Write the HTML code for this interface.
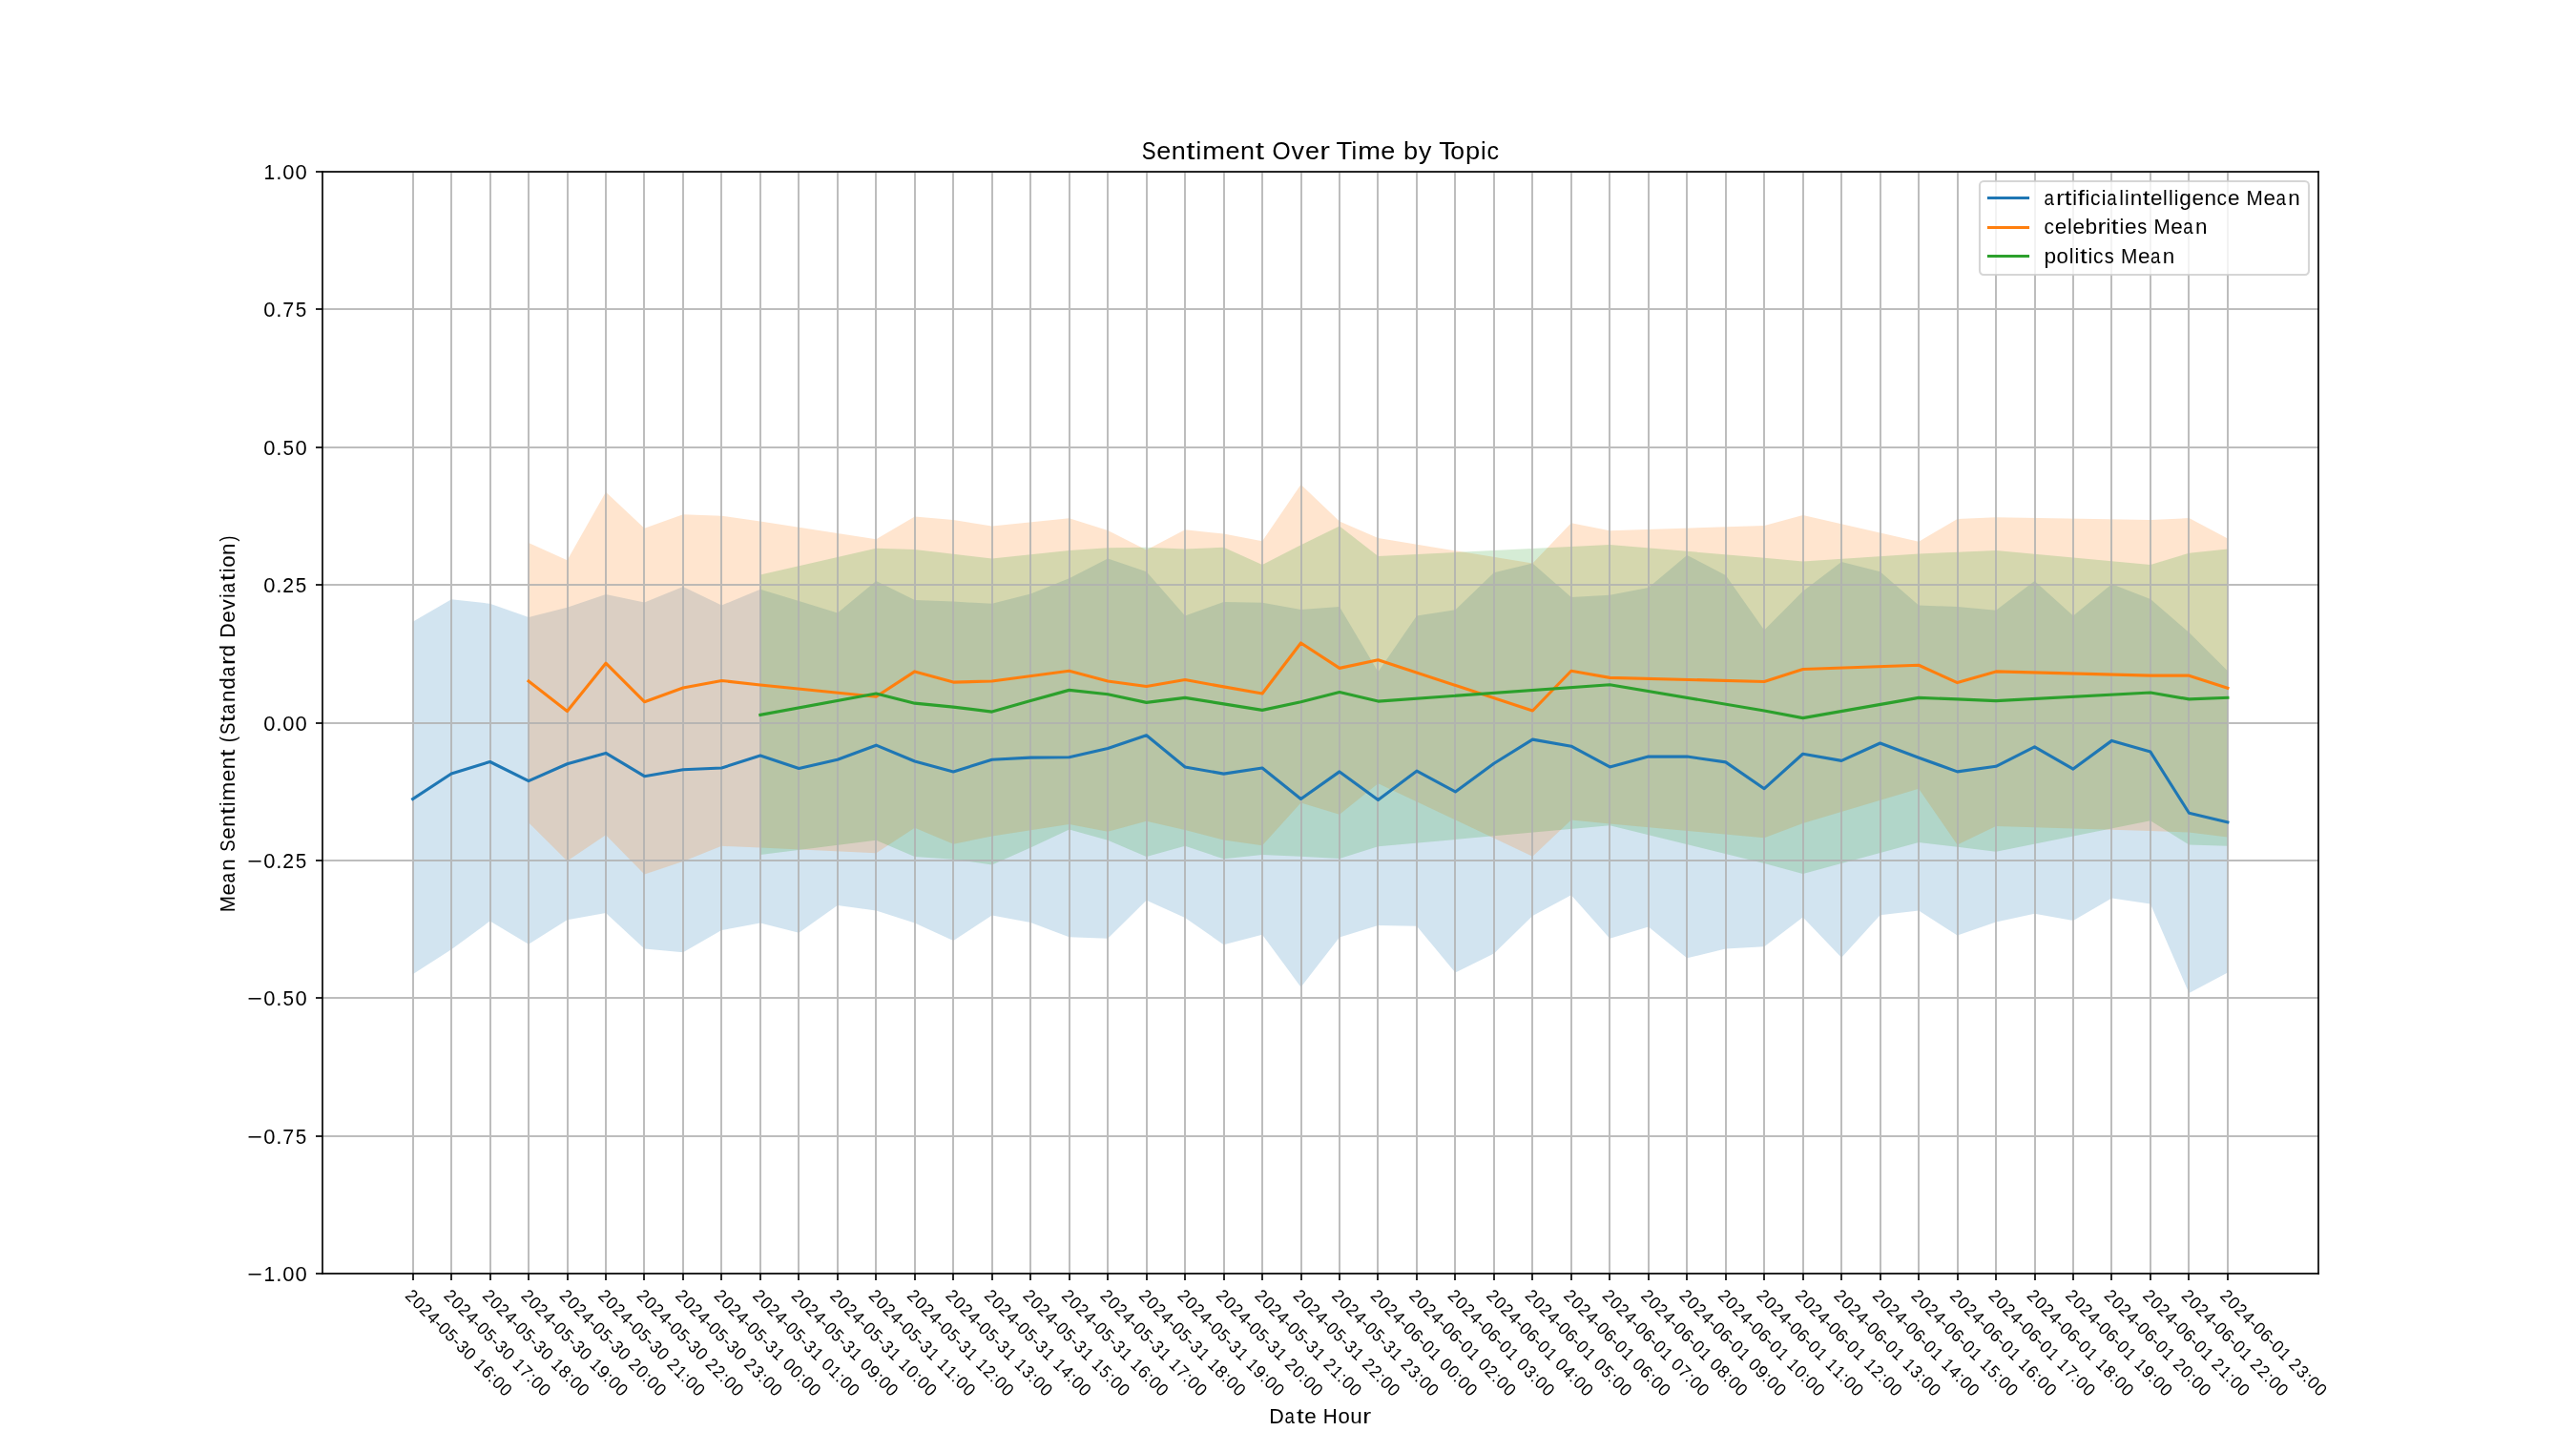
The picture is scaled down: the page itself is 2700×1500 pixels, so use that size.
<!DOCTYPE html><html><head><meta charset="utf-8"><title>Sentiment Over Time by Topic</title>
<style>html,body{margin:0;padding:0;background:#fff;overflow:hidden;}svg{display:block;will-change:transform;}text{font-family:"Liberation Sans",sans-serif;fill:#000;}</style></head><body>
<svg width="2700" height="1500" viewBox="0 0 2700 1500">
<rect x="0" y="0" width="2700" height="1500" fill="#ffffff"/>
<g fill-opacity="0.2" stroke="none">
<path fill="#1f77b4" d="M432.61 651.82 L473.09 628.14 L513.56 632.76 L554.04 646.91 L594.51 636.8 L634.98 623.12 L675.46 631.61 L715.93 614.97 L756.4 634.49 L796.88 617.63 L837.35 629.99 L877.83 642.58 L918.3 609.02 L958.77 628.89 L999.25 630.62 L1039.72 632.82 L1080.2 622.42 L1120.67 606.14 L1161.14 585.4 L1201.62 599.21 L1242.09 645.41 L1282.57 631.09 L1323.04 631.72 L1363.51 639.11 L1403.99 636.11 L1444.46 704.31 L1484.93 645.41 L1525.41 639.29 L1565.88 600.3 L1606.36 590.6 L1646.83 625.89 L1687.3 623.69 L1727.78 615.9 L1768.25 581.88 L1808.73 602.9 L1849.2 660.48 L1889.67 619.82 L1930.15 588.99 L1970.62 599.21 L2011.1 634.49 L2051.57 636.11 L2092.04 639.69 L2132.52 609.02 L2172.99 645.41 L2213.46 612.2 L2253.94 628.02 L2294.41 663.08 L2334.89 703.22 L2334.89 1019.51 L2294.41 1041.11 L2253.94 947.5 L2213.46 941.49 L2172.99 964.88 L2132.52 957.72 L2092.04 966.38 L2051.57 980.47 L2011.1 954.49 L1970.62 959.22 L1930.15 1003.86 L1889.67 961.42 L1849.2 992.37 L1808.73 994.51 L1768.25 1004.32 L1727.78 971.41 L1687.3 983.71 L1646.83 938.2 L1606.36 959.91 L1565.88 999.47 L1525.41 1019.51 L1484.93 970.71 L1444.46 970.08 L1403.99 982.61 L1363.51 1034.64 L1323.04 979.66 L1282.57 990.23 L1242.09 962.05 L1201.62 943.63 L1161.14 983.71 L1120.67 982.21 L1080.2 967.02 L1039.72 959.51 L999.25 985.9 L958.77 967.48 L918.3 954.49 L877.83 949.11 L837.35 977.87 L796.88 967.48 L756.4 975.1 L715.93 998.2 L675.46 994.51 L634.98 956.91 L594.51 964.25 L554.04 989.71 L513.56 965.52 L473.09 995.14 L432.61 1021.24 Z"/>
<path fill="#ff7f0e" d="M554.04 568.89 L594.51 587.31 L634.98 515.82 L675.46 553.7 L715.93 539.2 L756.4 540.71 L796.88 546.6 L918.3 565.19 L958.77 541.4 L999.25 545.1 L1039.72 551.56 L1120.67 543.31 L1161.14 555.89 L1201.62 576.45 L1242.09 555.32 L1282.57 559.59 L1323.04 567.21 L1363.51 507.9 L1403.99 546.6 L1444.46 564.1 L1606.36 590.6 L1646.83 548.33 L1687.3 556.3 L1849.2 550.93 L1889.67 540.07 L2011.1 567.79 L2051.57 544 L2092.04 542.27 L2253.94 545.1 L2294.41 543.07 L2334.89 564.62 L2334.89 877.62 L2294.41 872.6 L2253.94 871.09 L2092.04 866.07 L2051.57 885.59 L2011.1 826.68 L1889.67 863.07 L1849.2 878.2 L1687.3 863.47 L1646.83 859.6 L1606.36 897.72 L1444.46 821.26 L1403.99 853.71 L1363.51 841.41 L1323.04 886.22 L1282.57 880.39 L1242.09 870 L1201.62 860.87 L1161.14 871.73 L1120.67 863.93 L1039.72 876.47 L999.25 884.72 L958.77 867.8 L918.3 894.25 L796.88 888.42 L756.4 886.86 L715.93 902.91 L675.46 916.6 L634.98 875.37 L594.51 902.51 L554.04 862.37 Z"/>
<path fill="#2ca02c" d="M796.88 602.5 L918.3 574.66 L958.77 575.99 L999.25 580.78 L1039.72 585.58 L1080.2 581.25 L1120.67 576.92 L1161.14 574.32 L1201.62 573.86 L1242.09 575.41 L1282.57 573.68 L1323.04 592.1 L1363.51 571.31 L1403.99 551.56 L1444.46 582.98 L1687.3 571.08 L1849.2 584.65 L1889.67 588.41 L2011.1 580.38 L2051.57 578.71 L2092.04 576.92 L2253.94 592.1 L2294.41 579.75 L2334.89 575.41 L2334.89 886.86 L2294.41 885.59 L2253.94 860.24 L2092.04 892.69 L2051.57 887.73 L2011.1 882.99 L1889.67 915.91 L1849.2 905.11 L1687.3 865.2 L1444.46 887.32 L1403.99 899.91 L1363.51 897.77 L1323.04 895.98 L1282.57 900.32 L1242.09 886.86 L1201.62 898.12 L1161.14 880.8 L1120.67 869.53 L1080.2 888.42 L1039.72 906.38 L999.25 900.72 L958.77 898.12 L918.3 880.8 L796.88 895.98 Z"/>
</g>
<path fill="#b0b0b0" fill-opacity="0.835" d="M432 180h2v1155h-2zM472 180h2v1155h-2zM513 180h2v1155h-2zM553 180h2v1155h-2zM594 180h2v1155h-2zM634 180h2v1155h-2zM674 180h2v1155h-2zM715 180h2v1155h-2zM755 180h2v1155h-2zM796 180h2v1155h-2zM836 180h2v1155h-2zM877 180h2v1155h-2zM917 180h2v1155h-2zM958 180h2v1155h-2zM998 180h2v1155h-2zM1039 180h2v1155h-2zM1079 180h2v1155h-2zM1120 180h2v1155h-2zM1160 180h2v1155h-2zM1201 180h2v1155h-2zM1241 180h2v1155h-2zM1282 180h2v1155h-2zM1322 180h2v1155h-2zM1363 180h2v1155h-2zM1403 180h2v1155h-2zM1443 180h2v1155h-2zM1484 180h2v1155h-2zM1524 180h2v1155h-2zM1565 180h2v1155h-2zM1605 180h2v1155h-2zM1646 180h2v1155h-2zM1686 180h2v1155h-2zM1727 180h2v1155h-2zM1767 180h2v1155h-2zM1808 180h2v1155h-2zM1848 180h2v1155h-2zM1889 180h2v1155h-2zM1929 180h2v1155h-2zM1970 180h2v1155h-2zM2010 180h2v1155h-2zM2051 180h2v1155h-2zM2091 180h2v1155h-2zM2132 180h2v1155h-2zM2172 180h2v1155h-2zM2212 180h2v1155h-2zM2253 180h2v1155h-2zM2293 180h2v1155h-2zM2334 180h2v1155h-2zM338 180h2092v1h-2092zM338 323h2092v2h-2092zM338 468h2092v2h-2092zM338 612h2092v2h-2092zM338 757h2092v2h-2092zM338 901h2092v2h-2092zM338 1045h2092v2h-2092zM338 1190h2092v2h-2092zM338 1334h2092v1h-2092z"/>
<path fill="#000" fill-opacity="0.835" d="M432 1335h2v7h-2zM472 1335h2v7h-2zM513 1335h2v7h-2zM553 1335h2v7h-2zM594 1335h2v7h-2zM634 1335h2v7h-2zM674 1335h2v7h-2zM715 1335h2v7h-2zM755 1335h2v7h-2zM796 1335h2v7h-2zM836 1335h2v7h-2zM877 1335h2v7h-2zM917 1335h2v7h-2zM958 1335h2v7h-2zM998 1335h2v7h-2zM1039 1335h2v7h-2zM1079 1335h2v7h-2zM1120 1335h2v7h-2zM1160 1335h2v7h-2zM1201 1335h2v7h-2zM1241 1335h2v7h-2zM1282 1335h2v7h-2zM1322 1335h2v7h-2zM1363 1335h2v7h-2zM1403 1335h2v7h-2zM1443 1335h2v7h-2zM1484 1335h2v7h-2zM1524 1335h2v7h-2zM1565 1335h2v7h-2zM1605 1335h2v7h-2zM1646 1335h2v7h-2zM1686 1335h2v7h-2zM1727 1335h2v7h-2zM1767 1335h2v7h-2zM1808 1335h2v7h-2zM1848 1335h2v7h-2zM1889 1335h2v7h-2zM1929 1335h2v7h-2zM1970 1335h2v7h-2zM2010 1335h2v7h-2zM2051 1335h2v7h-2zM2091 1335h2v7h-2zM2132 1335h2v7h-2zM2172 1335h2v7h-2zM2212 1335h2v7h-2zM2253 1335h2v7h-2zM2293 1335h2v7h-2zM2334 1335h2v7h-2zM331 179h7v2h-7zM331 323h7v2h-7zM331 468h7v2h-7zM331 612h7v2h-7zM331 757h7v2h-7zM331 901h7v2h-7zM331 1045h7v2h-7zM331 1190h7v2h-7zM331 1334h7v2h-7z"/>
<g fill="none" stroke-width="3.1250" stroke-linejoin="round" stroke-linecap="square">
<path stroke="#1f77b4" d="M432.61 837.48 L473.09 811.03 L513.56 798.5 L554.04 818.66 L594.51 800.7 L634.98 789.38 L675.46 813.69 L715.93 806.7 L756.4 804.97 L796.88 791.98 L837.35 805.43 L877.83 796.31 L918.3 781.18 L958.77 798.04 L999.25 808.9 L1039.72 796.31 L1080.2 794.17 L1120.67 793.71 L1161.14 784.41 L1201.62 770.78 L1242.09 803.93 L1282.57 811.09 L1323.04 804.97 L1363.51 837.48 L1403.99 808.9 L1444.46 838.58 L1484.93 808.2 L1525.41 829.92 L1565.88 800.24 L1606.36 775.11 L1646.83 782.22 L1687.3 803.93 L1727.78 793.07 L1768.25 793.07 L1808.73 798.91 L1849.2 826.68 L1889.67 790.24 L1930.15 797.41 L1970.62 778.98 L2011.1 794.17 L2051.57 808.9 L2092.04 803.3 L2132.52 782.91 L2172.99 806.07 L2213.46 776.38 L2253.94 788.11 L2294.41 852.21 L2334.89 861.8"/>
<path stroke="#ff7f0e" d="M554.04 714.01 L594.51 745.49 L634.98 695.19 L675.46 735.67 L715.93 721 L756.4 713.44 L796.88 718 L918.3 730.3 L958.77 703.91 L999.25 715.11 L1039.72 714.01 L1120.67 703.22 L1161.14 714.01 L1201.62 719.5 L1242.09 712.51 L1282.57 719.9 L1323.04 727.01 L1363.51 673.99 L1403.99 700.39 L1444.46 691.72 L1606.36 745.03 L1646.83 703.22 L1687.3 710.38 L1849.2 714.48 L1889.67 701.48 L2011.1 697.21 L2051.57 715.57 L2092.04 703.91 L2253.94 708.18 L2294.41 708.18 L2334.89 721.18"/>
<path stroke="#2ca02c" d="M796.88 749.41 L918.3 727.01 L958.77 737.17 L999.25 741.1 L1039.72 746.12 L1080.2 734.57 L1120.67 723.37 L1161.14 727.7 L1201.62 736.36 L1242.09 731.34 L1282.57 737.87 L1323.04 744.39 L1363.51 735.73 L1403.99 725.51 L1444.46 735.09 L1687.3 717.71 L1849.2 745.03 L1889.67 752.59 L2011.1 731.34 L2051.57 732.9 L2092.04 734.57 L2253.94 725.97 L2294.41 732.9 L2334.89 731.34"/>
</g>
<g fill="#000" fill-opacity="0.835"><path d="M337 179h2v1157h-2z"/><path d="M2429 179h2v1157h-2z"/><path d="M337 179h2094v2h-2094z"/><path d="M337 1334h2094v2h-2094z"/></g>
<text transform="translate(423.46 1358.98) rotate(45)" font-size="18.33"><tspan x="0.37" textLength="9.42" lengthAdjust="spacingAndGlyphs">2</tspan><tspan x="10.99" textLength="9.77" lengthAdjust="spacingAndGlyphs">0</tspan><tspan x="21.52" textLength="9.42" lengthAdjust="spacingAndGlyphs">2</tspan><tspan x="32.14" textLength="9.77" lengthAdjust="spacingAndGlyphs">4</tspan><tspan x="42.32" textLength="5.98" lengthAdjust="spacingAndGlyphs">-</tspan><tspan x="48.72" textLength="9.77" lengthAdjust="spacingAndGlyphs">0</tspan><tspan x="59.51" textLength="9.22" lengthAdjust="spacingAndGlyphs">5</tspan><tspan x="69.48" textLength="5.98" lengthAdjust="spacingAndGlyphs">-</tspan><tspan x="76.09" textLength="9.38" lengthAdjust="spacingAndGlyphs">3</tspan><tspan x="86.45" textLength="9.77" lengthAdjust="spacingAndGlyphs">0</tspan> <tspan x="102.45" textLength="9.33" lengthAdjust="spacingAndGlyphs">1</tspan><tspan x="112.72" textLength="10.11" lengthAdjust="spacingAndGlyphs">6</tspan><tspan x="123.36" textLength="5.01" lengthAdjust="spacingAndGlyphs">:</tspan><tspan x="129.07" textLength="9.77" lengthAdjust="spacingAndGlyphs">0</tspan><tspan x="139.65" textLength="9.77" lengthAdjust="spacingAndGlyphs">0</tspan></text>
<text transform="translate(463.94 1358.98) rotate(45)" font-size="18.33"><tspan x="0.37" textLength="9.42" lengthAdjust="spacingAndGlyphs">2</tspan><tspan x="10.99" textLength="9.77" lengthAdjust="spacingAndGlyphs">0</tspan><tspan x="21.52" textLength="9.42" lengthAdjust="spacingAndGlyphs">2</tspan><tspan x="32.14" textLength="9.77" lengthAdjust="spacingAndGlyphs">4</tspan><tspan x="42.32" textLength="5.98" lengthAdjust="spacingAndGlyphs">-</tspan><tspan x="48.72" textLength="9.77" lengthAdjust="spacingAndGlyphs">0</tspan><tspan x="59.51" textLength="9.22" lengthAdjust="spacingAndGlyphs">5</tspan><tspan x="69.48" textLength="5.98" lengthAdjust="spacingAndGlyphs">-</tspan><tspan x="76.09" textLength="9.38" lengthAdjust="spacingAndGlyphs">3</tspan><tspan x="86.45" textLength="9.77" lengthAdjust="spacingAndGlyphs">0</tspan> <tspan x="102.45" textLength="9.33" lengthAdjust="spacingAndGlyphs">1</tspan><tspan x="112.96" textLength="9.56" lengthAdjust="spacingAndGlyphs">7</tspan><tspan x="123.36" textLength="5.01" lengthAdjust="spacingAndGlyphs">:</tspan><tspan x="129.07" textLength="9.77" lengthAdjust="spacingAndGlyphs">0</tspan><tspan x="139.65" textLength="9.77" lengthAdjust="spacingAndGlyphs">0</tspan></text>
<text transform="translate(504.41 1358.98) rotate(45)" font-size="18.33"><tspan x="0.37" textLength="9.42" lengthAdjust="spacingAndGlyphs">2</tspan><tspan x="10.99" textLength="9.77" lengthAdjust="spacingAndGlyphs">0</tspan><tspan x="21.52" textLength="9.42" lengthAdjust="spacingAndGlyphs">2</tspan><tspan x="32.14" textLength="9.77" lengthAdjust="spacingAndGlyphs">4</tspan><tspan x="42.32" textLength="5.98" lengthAdjust="spacingAndGlyphs">-</tspan><tspan x="48.72" textLength="9.77" lengthAdjust="spacingAndGlyphs">0</tspan><tspan x="59.51" textLength="9.22" lengthAdjust="spacingAndGlyphs">5</tspan><tspan x="69.48" textLength="5.98" lengthAdjust="spacingAndGlyphs">-</tspan><tspan x="76.09" textLength="9.38" lengthAdjust="spacingAndGlyphs">3</tspan><tspan x="86.45" textLength="9.77" lengthAdjust="spacingAndGlyphs">0</tspan> <tspan x="102.45" textLength="9.33" lengthAdjust="spacingAndGlyphs">1</tspan><tspan x="112.84" textLength="9.88" lengthAdjust="spacingAndGlyphs">8</tspan><tspan x="123.36" textLength="5.01" lengthAdjust="spacingAndGlyphs">:</tspan><tspan x="129.07" textLength="9.77" lengthAdjust="spacingAndGlyphs">0</tspan><tspan x="139.65" textLength="9.77" lengthAdjust="spacingAndGlyphs">0</tspan></text>
<text transform="translate(544.89 1358.98) rotate(45)" font-size="18.33"><tspan x="0.37" textLength="9.42" lengthAdjust="spacingAndGlyphs">2</tspan><tspan x="10.99" textLength="9.77" lengthAdjust="spacingAndGlyphs">0</tspan><tspan x="21.52" textLength="9.42" lengthAdjust="spacingAndGlyphs">2</tspan><tspan x="32.14" textLength="9.77" lengthAdjust="spacingAndGlyphs">4</tspan><tspan x="42.32" textLength="5.98" lengthAdjust="spacingAndGlyphs">-</tspan><tspan x="48.72" textLength="9.77" lengthAdjust="spacingAndGlyphs">0</tspan><tspan x="59.51" textLength="9.22" lengthAdjust="spacingAndGlyphs">5</tspan><tspan x="69.48" textLength="5.98" lengthAdjust="spacingAndGlyphs">-</tspan><tspan x="76.09" textLength="9.38" lengthAdjust="spacingAndGlyphs">3</tspan><tspan x="86.45" textLength="9.77" lengthAdjust="spacingAndGlyphs">0</tspan> <tspan x="102.45" textLength="9.33" lengthAdjust="spacingAndGlyphs">1</tspan><tspan x="112.68" textLength="10.09" lengthAdjust="spacingAndGlyphs">9</tspan><tspan x="123.36" textLength="5.01" lengthAdjust="spacingAndGlyphs">:</tspan><tspan x="129.07" textLength="9.77" lengthAdjust="spacingAndGlyphs">0</tspan><tspan x="139.65" textLength="9.77" lengthAdjust="spacingAndGlyphs">0</tspan></text>
<text transform="translate(585.36 1358.98) rotate(45)" font-size="18.33"><tspan x="0.37" textLength="9.42" lengthAdjust="spacingAndGlyphs">2</tspan><tspan x="10.99" textLength="9.77" lengthAdjust="spacingAndGlyphs">0</tspan><tspan x="21.52" textLength="9.42" lengthAdjust="spacingAndGlyphs">2</tspan><tspan x="32.14" textLength="9.77" lengthAdjust="spacingAndGlyphs">4</tspan><tspan x="42.32" textLength="5.98" lengthAdjust="spacingAndGlyphs">-</tspan><tspan x="48.72" textLength="9.77" lengthAdjust="spacingAndGlyphs">0</tspan><tspan x="59.51" textLength="9.22" lengthAdjust="spacingAndGlyphs">5</tspan><tspan x="69.48" textLength="5.98" lengthAdjust="spacingAndGlyphs">-</tspan><tspan x="76.09" textLength="9.38" lengthAdjust="spacingAndGlyphs">3</tspan><tspan x="86.45" textLength="9.77" lengthAdjust="spacingAndGlyphs">0</tspan> <tspan x="102.27" textLength="9.42" lengthAdjust="spacingAndGlyphs">2</tspan><tspan x="112.89" textLength="9.77" lengthAdjust="spacingAndGlyphs">0</tspan><tspan x="123.36" textLength="5.01" lengthAdjust="spacingAndGlyphs">:</tspan><tspan x="129.07" textLength="9.77" lengthAdjust="spacingAndGlyphs">0</tspan><tspan x="139.65" textLength="9.77" lengthAdjust="spacingAndGlyphs">0</tspan></text>
<text transform="translate(625.83 1358.98) rotate(45)" font-size="18.33"><tspan x="0.37" textLength="9.42" lengthAdjust="spacingAndGlyphs">2</tspan><tspan x="10.99" textLength="9.77" lengthAdjust="spacingAndGlyphs">0</tspan><tspan x="21.52" textLength="9.42" lengthAdjust="spacingAndGlyphs">2</tspan><tspan x="32.14" textLength="9.77" lengthAdjust="spacingAndGlyphs">4</tspan><tspan x="42.32" textLength="5.98" lengthAdjust="spacingAndGlyphs">-</tspan><tspan x="48.72" textLength="9.77" lengthAdjust="spacingAndGlyphs">0</tspan><tspan x="59.51" textLength="9.22" lengthAdjust="spacingAndGlyphs">5</tspan><tspan x="69.48" textLength="5.98" lengthAdjust="spacingAndGlyphs">-</tspan><tspan x="76.09" textLength="9.38" lengthAdjust="spacingAndGlyphs">3</tspan><tspan x="86.45" textLength="9.77" lengthAdjust="spacingAndGlyphs">0</tspan> <tspan x="102.27" textLength="9.42" lengthAdjust="spacingAndGlyphs">2</tspan><tspan x="113.03" textLength="9.33" lengthAdjust="spacingAndGlyphs">1</tspan><tspan x="123.36" textLength="5.01" lengthAdjust="spacingAndGlyphs">:</tspan><tspan x="129.07" textLength="9.77" lengthAdjust="spacingAndGlyphs">0</tspan><tspan x="139.65" textLength="9.77" lengthAdjust="spacingAndGlyphs">0</tspan></text>
<text transform="translate(666.31 1358.98) rotate(45)" font-size="18.33"><tspan x="0.37" textLength="9.42" lengthAdjust="spacingAndGlyphs">2</tspan><tspan x="10.99" textLength="9.77" lengthAdjust="spacingAndGlyphs">0</tspan><tspan x="21.52" textLength="9.42" lengthAdjust="spacingAndGlyphs">2</tspan><tspan x="32.14" textLength="9.77" lengthAdjust="spacingAndGlyphs">4</tspan><tspan x="42.32" textLength="5.98" lengthAdjust="spacingAndGlyphs">-</tspan><tspan x="48.72" textLength="9.77" lengthAdjust="spacingAndGlyphs">0</tspan><tspan x="59.51" textLength="9.22" lengthAdjust="spacingAndGlyphs">5</tspan><tspan x="69.48" textLength="5.98" lengthAdjust="spacingAndGlyphs">-</tspan><tspan x="76.09" textLength="9.38" lengthAdjust="spacingAndGlyphs">3</tspan><tspan x="86.45" textLength="9.77" lengthAdjust="spacingAndGlyphs">0</tspan> <tspan x="102.27" textLength="9.42" lengthAdjust="spacingAndGlyphs">2</tspan><tspan x="112.85" textLength="9.42" lengthAdjust="spacingAndGlyphs">2</tspan><tspan x="123.36" textLength="5.01" lengthAdjust="spacingAndGlyphs">:</tspan><tspan x="129.07" textLength="9.77" lengthAdjust="spacingAndGlyphs">0</tspan><tspan x="139.65" textLength="9.77" lengthAdjust="spacingAndGlyphs">0</tspan></text>
<text transform="translate(706.78 1358.98) rotate(45)" font-size="18.33"><tspan x="0.37" textLength="9.42" lengthAdjust="spacingAndGlyphs">2</tspan><tspan x="10.99" textLength="9.77" lengthAdjust="spacingAndGlyphs">0</tspan><tspan x="21.52" textLength="9.42" lengthAdjust="spacingAndGlyphs">2</tspan><tspan x="32.14" textLength="9.77" lengthAdjust="spacingAndGlyphs">4</tspan><tspan x="42.32" textLength="5.98" lengthAdjust="spacingAndGlyphs">-</tspan><tspan x="48.72" textLength="9.77" lengthAdjust="spacingAndGlyphs">0</tspan><tspan x="59.51" textLength="9.22" lengthAdjust="spacingAndGlyphs">5</tspan><tspan x="69.48" textLength="5.98" lengthAdjust="spacingAndGlyphs">-</tspan><tspan x="76.09" textLength="9.38" lengthAdjust="spacingAndGlyphs">3</tspan><tspan x="86.45" textLength="9.77" lengthAdjust="spacingAndGlyphs">0</tspan> <tspan x="102.27" textLength="9.42" lengthAdjust="spacingAndGlyphs">2</tspan><tspan x="113.11" textLength="9.38" lengthAdjust="spacingAndGlyphs">3</tspan><tspan x="123.36" textLength="5.01" lengthAdjust="spacingAndGlyphs">:</tspan><tspan x="129.07" textLength="9.77" lengthAdjust="spacingAndGlyphs">0</tspan><tspan x="139.65" textLength="9.77" lengthAdjust="spacingAndGlyphs">0</tspan></text>
<text transform="translate(747.26 1358.98) rotate(45)" font-size="18.33"><tspan x="0.37" textLength="9.42" lengthAdjust="spacingAndGlyphs">2</tspan><tspan x="10.99" textLength="9.77" lengthAdjust="spacingAndGlyphs">0</tspan><tspan x="21.52" textLength="9.42" lengthAdjust="spacingAndGlyphs">2</tspan><tspan x="32.14" textLength="9.77" lengthAdjust="spacingAndGlyphs">4</tspan><tspan x="42.32" textLength="5.98" lengthAdjust="spacingAndGlyphs">-</tspan><tspan x="48.72" textLength="9.77" lengthAdjust="spacingAndGlyphs">0</tspan><tspan x="59.51" textLength="9.22" lengthAdjust="spacingAndGlyphs">5</tspan><tspan x="69.48" textLength="5.98" lengthAdjust="spacingAndGlyphs">-</tspan><tspan x="76.09" textLength="9.38" lengthAdjust="spacingAndGlyphs">3</tspan><tspan x="86.59" textLength="9.33" lengthAdjust="spacingAndGlyphs">1</tspan> <tspan x="102.31" textLength="9.77" lengthAdjust="spacingAndGlyphs">0</tspan><tspan x="112.89" textLength="9.77" lengthAdjust="spacingAndGlyphs">0</tspan><tspan x="123.36" textLength="5.01" lengthAdjust="spacingAndGlyphs">:</tspan><tspan x="129.07" textLength="9.77" lengthAdjust="spacingAndGlyphs">0</tspan><tspan x="139.65" textLength="9.77" lengthAdjust="spacingAndGlyphs">0</tspan></text>
<text transform="translate(787.73 1358.98) rotate(45)" font-size="18.33"><tspan x="0.37" textLength="9.42" lengthAdjust="spacingAndGlyphs">2</tspan><tspan x="10.99" textLength="9.77" lengthAdjust="spacingAndGlyphs">0</tspan><tspan x="21.52" textLength="9.42" lengthAdjust="spacingAndGlyphs">2</tspan><tspan x="32.14" textLength="9.77" lengthAdjust="spacingAndGlyphs">4</tspan><tspan x="42.32" textLength="5.98" lengthAdjust="spacingAndGlyphs">-</tspan><tspan x="48.72" textLength="9.77" lengthAdjust="spacingAndGlyphs">0</tspan><tspan x="59.51" textLength="9.22" lengthAdjust="spacingAndGlyphs">5</tspan><tspan x="69.48" textLength="5.98" lengthAdjust="spacingAndGlyphs">-</tspan><tspan x="76.09" textLength="9.38" lengthAdjust="spacingAndGlyphs">3</tspan><tspan x="86.59" textLength="9.33" lengthAdjust="spacingAndGlyphs">1</tspan> <tspan x="102.31" textLength="9.77" lengthAdjust="spacingAndGlyphs">0</tspan><tspan x="113.03" textLength="9.33" lengthAdjust="spacingAndGlyphs">1</tspan><tspan x="123.36" textLength="5.01" lengthAdjust="spacingAndGlyphs">:</tspan><tspan x="129.07" textLength="9.77" lengthAdjust="spacingAndGlyphs">0</tspan><tspan x="139.65" textLength="9.77" lengthAdjust="spacingAndGlyphs">0</tspan></text>
<text transform="translate(828.20 1358.98) rotate(45)" font-size="18.33"><tspan x="0.37" textLength="9.42" lengthAdjust="spacingAndGlyphs">2</tspan><tspan x="10.99" textLength="9.77" lengthAdjust="spacingAndGlyphs">0</tspan><tspan x="21.52" textLength="9.42" lengthAdjust="spacingAndGlyphs">2</tspan><tspan x="32.14" textLength="9.77" lengthAdjust="spacingAndGlyphs">4</tspan><tspan x="42.32" textLength="5.98" lengthAdjust="spacingAndGlyphs">-</tspan><tspan x="48.72" textLength="9.77" lengthAdjust="spacingAndGlyphs">0</tspan><tspan x="59.51" textLength="9.22" lengthAdjust="spacingAndGlyphs">5</tspan><tspan x="69.48" textLength="5.98" lengthAdjust="spacingAndGlyphs">-</tspan><tspan x="76.09" textLength="9.38" lengthAdjust="spacingAndGlyphs">3</tspan><tspan x="86.59" textLength="9.33" lengthAdjust="spacingAndGlyphs">1</tspan> <tspan x="102.31" textLength="9.77" lengthAdjust="spacingAndGlyphs">0</tspan><tspan x="112.68" textLength="10.09" lengthAdjust="spacingAndGlyphs">9</tspan><tspan x="123.36" textLength="5.01" lengthAdjust="spacingAndGlyphs">:</tspan><tspan x="129.07" textLength="9.77" lengthAdjust="spacingAndGlyphs">0</tspan><tspan x="139.65" textLength="9.77" lengthAdjust="spacingAndGlyphs">0</tspan></text>
<text transform="translate(868.68 1358.98) rotate(45)" font-size="18.33"><tspan x="0.37" textLength="9.42" lengthAdjust="spacingAndGlyphs">2</tspan><tspan x="10.99" textLength="9.77" lengthAdjust="spacingAndGlyphs">0</tspan><tspan x="21.52" textLength="9.42" lengthAdjust="spacingAndGlyphs">2</tspan><tspan x="32.14" textLength="9.77" lengthAdjust="spacingAndGlyphs">4</tspan><tspan x="42.32" textLength="5.98" lengthAdjust="spacingAndGlyphs">-</tspan><tspan x="48.72" textLength="9.77" lengthAdjust="spacingAndGlyphs">0</tspan><tspan x="59.51" textLength="9.22" lengthAdjust="spacingAndGlyphs">5</tspan><tspan x="69.48" textLength="5.98" lengthAdjust="spacingAndGlyphs">-</tspan><tspan x="76.09" textLength="9.38" lengthAdjust="spacingAndGlyphs">3</tspan><tspan x="86.59" textLength="9.33" lengthAdjust="spacingAndGlyphs">1</tspan> <tspan x="102.45" textLength="9.33" lengthAdjust="spacingAndGlyphs">1</tspan><tspan x="112.89" textLength="9.77" lengthAdjust="spacingAndGlyphs">0</tspan><tspan x="123.36" textLength="5.01" lengthAdjust="spacingAndGlyphs">:</tspan><tspan x="129.07" textLength="9.77" lengthAdjust="spacingAndGlyphs">0</tspan><tspan x="139.65" textLength="9.77" lengthAdjust="spacingAndGlyphs">0</tspan></text>
<text transform="translate(909.15 1358.98) rotate(45)" font-size="18.33"><tspan x="0.37" textLength="9.42" lengthAdjust="spacingAndGlyphs">2</tspan><tspan x="10.99" textLength="9.77" lengthAdjust="spacingAndGlyphs">0</tspan><tspan x="21.52" textLength="9.42" lengthAdjust="spacingAndGlyphs">2</tspan><tspan x="32.14" textLength="9.77" lengthAdjust="spacingAndGlyphs">4</tspan><tspan x="42.32" textLength="5.98" lengthAdjust="spacingAndGlyphs">-</tspan><tspan x="48.72" textLength="9.77" lengthAdjust="spacingAndGlyphs">0</tspan><tspan x="59.51" textLength="9.22" lengthAdjust="spacingAndGlyphs">5</tspan><tspan x="69.48" textLength="5.98" lengthAdjust="spacingAndGlyphs">-</tspan><tspan x="76.09" textLength="9.38" lengthAdjust="spacingAndGlyphs">3</tspan><tspan x="86.59" textLength="9.33" lengthAdjust="spacingAndGlyphs">1</tspan> <tspan x="102.45" textLength="9.33" lengthAdjust="spacingAndGlyphs">1</tspan><tspan x="113.03" textLength="9.33" lengthAdjust="spacingAndGlyphs">1</tspan><tspan x="123.36" textLength="5.01" lengthAdjust="spacingAndGlyphs">:</tspan><tspan x="129.07" textLength="9.77" lengthAdjust="spacingAndGlyphs">0</tspan><tspan x="139.65" textLength="9.77" lengthAdjust="spacingAndGlyphs">0</tspan></text>
<text transform="translate(949.62 1358.98) rotate(45)" font-size="18.33"><tspan x="0.37" textLength="9.42" lengthAdjust="spacingAndGlyphs">2</tspan><tspan x="10.99" textLength="9.77" lengthAdjust="spacingAndGlyphs">0</tspan><tspan x="21.52" textLength="9.42" lengthAdjust="spacingAndGlyphs">2</tspan><tspan x="32.14" textLength="9.77" lengthAdjust="spacingAndGlyphs">4</tspan><tspan x="42.32" textLength="5.98" lengthAdjust="spacingAndGlyphs">-</tspan><tspan x="48.72" textLength="9.77" lengthAdjust="spacingAndGlyphs">0</tspan><tspan x="59.51" textLength="9.22" lengthAdjust="spacingAndGlyphs">5</tspan><tspan x="69.48" textLength="5.98" lengthAdjust="spacingAndGlyphs">-</tspan><tspan x="76.09" textLength="9.38" lengthAdjust="spacingAndGlyphs">3</tspan><tspan x="86.59" textLength="9.33" lengthAdjust="spacingAndGlyphs">1</tspan> <tspan x="102.45" textLength="9.33" lengthAdjust="spacingAndGlyphs">1</tspan><tspan x="112.85" textLength="9.42" lengthAdjust="spacingAndGlyphs">2</tspan><tspan x="123.36" textLength="5.01" lengthAdjust="spacingAndGlyphs">:</tspan><tspan x="129.07" textLength="9.77" lengthAdjust="spacingAndGlyphs">0</tspan><tspan x="139.65" textLength="9.77" lengthAdjust="spacingAndGlyphs">0</tspan></text>
<text transform="translate(990.10 1358.98) rotate(45)" font-size="18.33"><tspan x="0.37" textLength="9.42" lengthAdjust="spacingAndGlyphs">2</tspan><tspan x="10.99" textLength="9.77" lengthAdjust="spacingAndGlyphs">0</tspan><tspan x="21.52" textLength="9.42" lengthAdjust="spacingAndGlyphs">2</tspan><tspan x="32.14" textLength="9.77" lengthAdjust="spacingAndGlyphs">4</tspan><tspan x="42.32" textLength="5.98" lengthAdjust="spacingAndGlyphs">-</tspan><tspan x="48.72" textLength="9.77" lengthAdjust="spacingAndGlyphs">0</tspan><tspan x="59.51" textLength="9.22" lengthAdjust="spacingAndGlyphs">5</tspan><tspan x="69.48" textLength="5.98" lengthAdjust="spacingAndGlyphs">-</tspan><tspan x="76.09" textLength="9.38" lengthAdjust="spacingAndGlyphs">3</tspan><tspan x="86.59" textLength="9.33" lengthAdjust="spacingAndGlyphs">1</tspan> <tspan x="102.45" textLength="9.33" lengthAdjust="spacingAndGlyphs">1</tspan><tspan x="113.11" textLength="9.38" lengthAdjust="spacingAndGlyphs">3</tspan><tspan x="123.36" textLength="5.01" lengthAdjust="spacingAndGlyphs">:</tspan><tspan x="129.07" textLength="9.77" lengthAdjust="spacingAndGlyphs">0</tspan><tspan x="139.65" textLength="9.77" lengthAdjust="spacingAndGlyphs">0</tspan></text>
<text transform="translate(1030.57 1358.98) rotate(45)" font-size="18.33"><tspan x="0.37" textLength="9.42" lengthAdjust="spacingAndGlyphs">2</tspan><tspan x="10.99" textLength="9.77" lengthAdjust="spacingAndGlyphs">0</tspan><tspan x="21.52" textLength="9.42" lengthAdjust="spacingAndGlyphs">2</tspan><tspan x="32.14" textLength="9.77" lengthAdjust="spacingAndGlyphs">4</tspan><tspan x="42.32" textLength="5.98" lengthAdjust="spacingAndGlyphs">-</tspan><tspan x="48.72" textLength="9.77" lengthAdjust="spacingAndGlyphs">0</tspan><tspan x="59.51" textLength="9.22" lengthAdjust="spacingAndGlyphs">5</tspan><tspan x="69.48" textLength="5.98" lengthAdjust="spacingAndGlyphs">-</tspan><tspan x="76.09" textLength="9.38" lengthAdjust="spacingAndGlyphs">3</tspan><tspan x="86.59" textLength="9.33" lengthAdjust="spacingAndGlyphs">1</tspan> <tspan x="102.45" textLength="9.33" lengthAdjust="spacingAndGlyphs">1</tspan><tspan x="112.89" textLength="9.77" lengthAdjust="spacingAndGlyphs">4</tspan><tspan x="123.36" textLength="5.01" lengthAdjust="spacingAndGlyphs">:</tspan><tspan x="129.07" textLength="9.77" lengthAdjust="spacingAndGlyphs">0</tspan><tspan x="139.65" textLength="9.77" lengthAdjust="spacingAndGlyphs">0</tspan></text>
<text transform="translate(1071.05 1358.98) rotate(45)" font-size="18.33"><tspan x="0.37" textLength="9.42" lengthAdjust="spacingAndGlyphs">2</tspan><tspan x="10.99" textLength="9.77" lengthAdjust="spacingAndGlyphs">0</tspan><tspan x="21.52" textLength="9.42" lengthAdjust="spacingAndGlyphs">2</tspan><tspan x="32.14" textLength="9.77" lengthAdjust="spacingAndGlyphs">4</tspan><tspan x="42.32" textLength="5.98" lengthAdjust="spacingAndGlyphs">-</tspan><tspan x="48.72" textLength="9.77" lengthAdjust="spacingAndGlyphs">0</tspan><tspan x="59.51" textLength="9.22" lengthAdjust="spacingAndGlyphs">5</tspan><tspan x="69.48" textLength="5.98" lengthAdjust="spacingAndGlyphs">-</tspan><tspan x="76.09" textLength="9.38" lengthAdjust="spacingAndGlyphs">3</tspan><tspan x="86.59" textLength="9.33" lengthAdjust="spacingAndGlyphs">1</tspan> <tspan x="102.45" textLength="9.33" lengthAdjust="spacingAndGlyphs">1</tspan><tspan x="113.10" textLength="9.22" lengthAdjust="spacingAndGlyphs">5</tspan><tspan x="123.36" textLength="5.01" lengthAdjust="spacingAndGlyphs">:</tspan><tspan x="129.07" textLength="9.77" lengthAdjust="spacingAndGlyphs">0</tspan><tspan x="139.65" textLength="9.77" lengthAdjust="spacingAndGlyphs">0</tspan></text>
<text transform="translate(1111.52 1358.98) rotate(45)" font-size="18.33"><tspan x="0.37" textLength="9.42" lengthAdjust="spacingAndGlyphs">2</tspan><tspan x="10.99" textLength="9.77" lengthAdjust="spacingAndGlyphs">0</tspan><tspan x="21.52" textLength="9.42" lengthAdjust="spacingAndGlyphs">2</tspan><tspan x="32.14" textLength="9.77" lengthAdjust="spacingAndGlyphs">4</tspan><tspan x="42.32" textLength="5.98" lengthAdjust="spacingAndGlyphs">-</tspan><tspan x="48.72" textLength="9.77" lengthAdjust="spacingAndGlyphs">0</tspan><tspan x="59.51" textLength="9.22" lengthAdjust="spacingAndGlyphs">5</tspan><tspan x="69.48" textLength="5.98" lengthAdjust="spacingAndGlyphs">-</tspan><tspan x="76.09" textLength="9.38" lengthAdjust="spacingAndGlyphs">3</tspan><tspan x="86.59" textLength="9.33" lengthAdjust="spacingAndGlyphs">1</tspan> <tspan x="102.45" textLength="9.33" lengthAdjust="spacingAndGlyphs">1</tspan><tspan x="112.72" textLength="10.11" lengthAdjust="spacingAndGlyphs">6</tspan><tspan x="123.36" textLength="5.01" lengthAdjust="spacingAndGlyphs">:</tspan><tspan x="129.07" textLength="9.77" lengthAdjust="spacingAndGlyphs">0</tspan><tspan x="139.65" textLength="9.77" lengthAdjust="spacingAndGlyphs">0</tspan></text>
<text transform="translate(1151.99 1358.98) rotate(45)" font-size="18.33"><tspan x="0.37" textLength="9.42" lengthAdjust="spacingAndGlyphs">2</tspan><tspan x="10.99" textLength="9.77" lengthAdjust="spacingAndGlyphs">0</tspan><tspan x="21.52" textLength="9.42" lengthAdjust="spacingAndGlyphs">2</tspan><tspan x="32.14" textLength="9.77" lengthAdjust="spacingAndGlyphs">4</tspan><tspan x="42.32" textLength="5.98" lengthAdjust="spacingAndGlyphs">-</tspan><tspan x="48.72" textLength="9.77" lengthAdjust="spacingAndGlyphs">0</tspan><tspan x="59.51" textLength="9.22" lengthAdjust="spacingAndGlyphs">5</tspan><tspan x="69.48" textLength="5.98" lengthAdjust="spacingAndGlyphs">-</tspan><tspan x="76.09" textLength="9.38" lengthAdjust="spacingAndGlyphs">3</tspan><tspan x="86.59" textLength="9.33" lengthAdjust="spacingAndGlyphs">1</tspan> <tspan x="102.45" textLength="9.33" lengthAdjust="spacingAndGlyphs">1</tspan><tspan x="112.96" textLength="9.56" lengthAdjust="spacingAndGlyphs">7</tspan><tspan x="123.36" textLength="5.01" lengthAdjust="spacingAndGlyphs">:</tspan><tspan x="129.07" textLength="9.77" lengthAdjust="spacingAndGlyphs">0</tspan><tspan x="139.65" textLength="9.77" lengthAdjust="spacingAndGlyphs">0</tspan></text>
<text transform="translate(1192.47 1358.98) rotate(45)" font-size="18.33"><tspan x="0.37" textLength="9.42" lengthAdjust="spacingAndGlyphs">2</tspan><tspan x="10.99" textLength="9.77" lengthAdjust="spacingAndGlyphs">0</tspan><tspan x="21.52" textLength="9.42" lengthAdjust="spacingAndGlyphs">2</tspan><tspan x="32.14" textLength="9.77" lengthAdjust="spacingAndGlyphs">4</tspan><tspan x="42.32" textLength="5.98" lengthAdjust="spacingAndGlyphs">-</tspan><tspan x="48.72" textLength="9.77" lengthAdjust="spacingAndGlyphs">0</tspan><tspan x="59.51" textLength="9.22" lengthAdjust="spacingAndGlyphs">5</tspan><tspan x="69.48" textLength="5.98" lengthAdjust="spacingAndGlyphs">-</tspan><tspan x="76.09" textLength="9.38" lengthAdjust="spacingAndGlyphs">3</tspan><tspan x="86.59" textLength="9.33" lengthAdjust="spacingAndGlyphs">1</tspan> <tspan x="102.45" textLength="9.33" lengthAdjust="spacingAndGlyphs">1</tspan><tspan x="112.84" textLength="9.88" lengthAdjust="spacingAndGlyphs">8</tspan><tspan x="123.36" textLength="5.01" lengthAdjust="spacingAndGlyphs">:</tspan><tspan x="129.07" textLength="9.77" lengthAdjust="spacingAndGlyphs">0</tspan><tspan x="139.65" textLength="9.77" lengthAdjust="spacingAndGlyphs">0</tspan></text>
<text transform="translate(1232.94 1358.98) rotate(45)" font-size="18.33"><tspan x="0.37" textLength="9.42" lengthAdjust="spacingAndGlyphs">2</tspan><tspan x="10.99" textLength="9.77" lengthAdjust="spacingAndGlyphs">0</tspan><tspan x="21.52" textLength="9.42" lengthAdjust="spacingAndGlyphs">2</tspan><tspan x="32.14" textLength="9.77" lengthAdjust="spacingAndGlyphs">4</tspan><tspan x="42.32" textLength="5.98" lengthAdjust="spacingAndGlyphs">-</tspan><tspan x="48.72" textLength="9.77" lengthAdjust="spacingAndGlyphs">0</tspan><tspan x="59.51" textLength="9.22" lengthAdjust="spacingAndGlyphs">5</tspan><tspan x="69.48" textLength="5.98" lengthAdjust="spacingAndGlyphs">-</tspan><tspan x="76.09" textLength="9.38" lengthAdjust="spacingAndGlyphs">3</tspan><tspan x="86.59" textLength="9.33" lengthAdjust="spacingAndGlyphs">1</tspan> <tspan x="102.45" textLength="9.33" lengthAdjust="spacingAndGlyphs">1</tspan><tspan x="112.68" textLength="10.09" lengthAdjust="spacingAndGlyphs">9</tspan><tspan x="123.36" textLength="5.01" lengthAdjust="spacingAndGlyphs">:</tspan><tspan x="129.07" textLength="9.77" lengthAdjust="spacingAndGlyphs">0</tspan><tspan x="139.65" textLength="9.77" lengthAdjust="spacingAndGlyphs">0</tspan></text>
<text transform="translate(1273.42 1358.98) rotate(45)" font-size="18.33"><tspan x="0.37" textLength="9.42" lengthAdjust="spacingAndGlyphs">2</tspan><tspan x="10.99" textLength="9.77" lengthAdjust="spacingAndGlyphs">0</tspan><tspan x="21.52" textLength="9.42" lengthAdjust="spacingAndGlyphs">2</tspan><tspan x="32.14" textLength="9.77" lengthAdjust="spacingAndGlyphs">4</tspan><tspan x="42.32" textLength="5.98" lengthAdjust="spacingAndGlyphs">-</tspan><tspan x="48.72" textLength="9.77" lengthAdjust="spacingAndGlyphs">0</tspan><tspan x="59.51" textLength="9.22" lengthAdjust="spacingAndGlyphs">5</tspan><tspan x="69.48" textLength="5.98" lengthAdjust="spacingAndGlyphs">-</tspan><tspan x="76.09" textLength="9.38" lengthAdjust="spacingAndGlyphs">3</tspan><tspan x="86.59" textLength="9.33" lengthAdjust="spacingAndGlyphs">1</tspan> <tspan x="102.27" textLength="9.42" lengthAdjust="spacingAndGlyphs">2</tspan><tspan x="112.89" textLength="9.77" lengthAdjust="spacingAndGlyphs">0</tspan><tspan x="123.36" textLength="5.01" lengthAdjust="spacingAndGlyphs">:</tspan><tspan x="129.07" textLength="9.77" lengthAdjust="spacingAndGlyphs">0</tspan><tspan x="139.65" textLength="9.77" lengthAdjust="spacingAndGlyphs">0</tspan></text>
<text transform="translate(1313.89 1358.98) rotate(45)" font-size="18.33"><tspan x="0.37" textLength="9.42" lengthAdjust="spacingAndGlyphs">2</tspan><tspan x="10.99" textLength="9.77" lengthAdjust="spacingAndGlyphs">0</tspan><tspan x="21.52" textLength="9.42" lengthAdjust="spacingAndGlyphs">2</tspan><tspan x="32.14" textLength="9.77" lengthAdjust="spacingAndGlyphs">4</tspan><tspan x="42.32" textLength="5.98" lengthAdjust="spacingAndGlyphs">-</tspan><tspan x="48.72" textLength="9.77" lengthAdjust="spacingAndGlyphs">0</tspan><tspan x="59.51" textLength="9.22" lengthAdjust="spacingAndGlyphs">5</tspan><tspan x="69.48" textLength="5.98" lengthAdjust="spacingAndGlyphs">-</tspan><tspan x="76.09" textLength="9.38" lengthAdjust="spacingAndGlyphs">3</tspan><tspan x="86.59" textLength="9.33" lengthAdjust="spacingAndGlyphs">1</tspan> <tspan x="102.27" textLength="9.42" lengthAdjust="spacingAndGlyphs">2</tspan><tspan x="113.03" textLength="9.33" lengthAdjust="spacingAndGlyphs">1</tspan><tspan x="123.36" textLength="5.01" lengthAdjust="spacingAndGlyphs">:</tspan><tspan x="129.07" textLength="9.77" lengthAdjust="spacingAndGlyphs">0</tspan><tspan x="139.65" textLength="9.77" lengthAdjust="spacingAndGlyphs">0</tspan></text>
<text transform="translate(1354.36 1358.98) rotate(45)" font-size="18.33"><tspan x="0.37" textLength="9.42" lengthAdjust="spacingAndGlyphs">2</tspan><tspan x="10.99" textLength="9.77" lengthAdjust="spacingAndGlyphs">0</tspan><tspan x="21.52" textLength="9.42" lengthAdjust="spacingAndGlyphs">2</tspan><tspan x="32.14" textLength="9.77" lengthAdjust="spacingAndGlyphs">4</tspan><tspan x="42.32" textLength="5.98" lengthAdjust="spacingAndGlyphs">-</tspan><tspan x="48.72" textLength="9.77" lengthAdjust="spacingAndGlyphs">0</tspan><tspan x="59.51" textLength="9.22" lengthAdjust="spacingAndGlyphs">5</tspan><tspan x="69.48" textLength="5.98" lengthAdjust="spacingAndGlyphs">-</tspan><tspan x="76.09" textLength="9.38" lengthAdjust="spacingAndGlyphs">3</tspan><tspan x="86.59" textLength="9.33" lengthAdjust="spacingAndGlyphs">1</tspan> <tspan x="102.27" textLength="9.42" lengthAdjust="spacingAndGlyphs">2</tspan><tspan x="112.85" textLength="9.42" lengthAdjust="spacingAndGlyphs">2</tspan><tspan x="123.36" textLength="5.01" lengthAdjust="spacingAndGlyphs">:</tspan><tspan x="129.07" textLength="9.77" lengthAdjust="spacingAndGlyphs">0</tspan><tspan x="139.65" textLength="9.77" lengthAdjust="spacingAndGlyphs">0</tspan></text>
<text transform="translate(1394.84 1358.98) rotate(45)" font-size="18.33"><tspan x="0.37" textLength="9.42" lengthAdjust="spacingAndGlyphs">2</tspan><tspan x="10.99" textLength="9.77" lengthAdjust="spacingAndGlyphs">0</tspan><tspan x="21.52" textLength="9.42" lengthAdjust="spacingAndGlyphs">2</tspan><tspan x="32.14" textLength="9.77" lengthAdjust="spacingAndGlyphs">4</tspan><tspan x="42.32" textLength="5.98" lengthAdjust="spacingAndGlyphs">-</tspan><tspan x="48.72" textLength="9.77" lengthAdjust="spacingAndGlyphs">0</tspan><tspan x="59.51" textLength="9.22" lengthAdjust="spacingAndGlyphs">5</tspan><tspan x="69.48" textLength="5.98" lengthAdjust="spacingAndGlyphs">-</tspan><tspan x="76.09" textLength="9.38" lengthAdjust="spacingAndGlyphs">3</tspan><tspan x="86.59" textLength="9.33" lengthAdjust="spacingAndGlyphs">1</tspan> <tspan x="102.27" textLength="9.42" lengthAdjust="spacingAndGlyphs">2</tspan><tspan x="113.11" textLength="9.38" lengthAdjust="spacingAndGlyphs">3</tspan><tspan x="123.36" textLength="5.01" lengthAdjust="spacingAndGlyphs">:</tspan><tspan x="129.07" textLength="9.77" lengthAdjust="spacingAndGlyphs">0</tspan><tspan x="139.65" textLength="9.77" lengthAdjust="spacingAndGlyphs">0</tspan></text>
<text transform="translate(1435.31 1358.98) rotate(45)" font-size="18.33"><tspan x="0.37" textLength="9.42" lengthAdjust="spacingAndGlyphs">2</tspan><tspan x="10.99" textLength="9.77" lengthAdjust="spacingAndGlyphs">0</tspan><tspan x="21.52" textLength="9.42" lengthAdjust="spacingAndGlyphs">2</tspan><tspan x="32.14" textLength="9.77" lengthAdjust="spacingAndGlyphs">4</tspan><tspan x="42.32" textLength="5.98" lengthAdjust="spacingAndGlyphs">-</tspan><tspan x="48.72" textLength="9.77" lengthAdjust="spacingAndGlyphs">0</tspan><tspan x="59.13" textLength="10.11" lengthAdjust="spacingAndGlyphs">6</tspan><tspan x="69.48" textLength="5.98" lengthAdjust="spacingAndGlyphs">-</tspan><tspan x="75.87" textLength="9.77" lengthAdjust="spacingAndGlyphs">0</tspan><tspan x="86.59" textLength="9.33" lengthAdjust="spacingAndGlyphs">1</tspan> <tspan x="102.31" textLength="9.77" lengthAdjust="spacingAndGlyphs">0</tspan><tspan x="112.89" textLength="9.77" lengthAdjust="spacingAndGlyphs">0</tspan><tspan x="123.36" textLength="5.01" lengthAdjust="spacingAndGlyphs">:</tspan><tspan x="129.07" textLength="9.77" lengthAdjust="spacingAndGlyphs">0</tspan><tspan x="139.65" textLength="9.77" lengthAdjust="spacingAndGlyphs">0</tspan></text>
<text transform="translate(1475.79 1358.98) rotate(45)" font-size="18.33"><tspan x="0.37" textLength="9.42" lengthAdjust="spacingAndGlyphs">2</tspan><tspan x="10.99" textLength="9.77" lengthAdjust="spacingAndGlyphs">0</tspan><tspan x="21.52" textLength="9.42" lengthAdjust="spacingAndGlyphs">2</tspan><tspan x="32.14" textLength="9.77" lengthAdjust="spacingAndGlyphs">4</tspan><tspan x="42.32" textLength="5.98" lengthAdjust="spacingAndGlyphs">-</tspan><tspan x="48.72" textLength="9.77" lengthAdjust="spacingAndGlyphs">0</tspan><tspan x="59.13" textLength="10.11" lengthAdjust="spacingAndGlyphs">6</tspan><tspan x="69.48" textLength="5.98" lengthAdjust="spacingAndGlyphs">-</tspan><tspan x="75.87" textLength="9.77" lengthAdjust="spacingAndGlyphs">0</tspan><tspan x="86.59" textLength="9.33" lengthAdjust="spacingAndGlyphs">1</tspan> <tspan x="102.31" textLength="9.77" lengthAdjust="spacingAndGlyphs">0</tspan><tspan x="112.85" textLength="9.42" lengthAdjust="spacingAndGlyphs">2</tspan><tspan x="123.36" textLength="5.01" lengthAdjust="spacingAndGlyphs">:</tspan><tspan x="129.07" textLength="9.77" lengthAdjust="spacingAndGlyphs">0</tspan><tspan x="139.65" textLength="9.77" lengthAdjust="spacingAndGlyphs">0</tspan></text>
<text transform="translate(1516.26 1358.98) rotate(45)" font-size="18.33"><tspan x="0.37" textLength="9.42" lengthAdjust="spacingAndGlyphs">2</tspan><tspan x="10.99" textLength="9.77" lengthAdjust="spacingAndGlyphs">0</tspan><tspan x="21.52" textLength="9.42" lengthAdjust="spacingAndGlyphs">2</tspan><tspan x="32.14" textLength="9.77" lengthAdjust="spacingAndGlyphs">4</tspan><tspan x="42.32" textLength="5.98" lengthAdjust="spacingAndGlyphs">-</tspan><tspan x="48.72" textLength="9.77" lengthAdjust="spacingAndGlyphs">0</tspan><tspan x="59.13" textLength="10.11" lengthAdjust="spacingAndGlyphs">6</tspan><tspan x="69.48" textLength="5.98" lengthAdjust="spacingAndGlyphs">-</tspan><tspan x="75.87" textLength="9.77" lengthAdjust="spacingAndGlyphs">0</tspan><tspan x="86.59" textLength="9.33" lengthAdjust="spacingAndGlyphs">1</tspan> <tspan x="102.31" textLength="9.77" lengthAdjust="spacingAndGlyphs">0</tspan><tspan x="113.11" textLength="9.38" lengthAdjust="spacingAndGlyphs">3</tspan><tspan x="123.36" textLength="5.01" lengthAdjust="spacingAndGlyphs">:</tspan><tspan x="129.07" textLength="9.77" lengthAdjust="spacingAndGlyphs">0</tspan><tspan x="139.65" textLength="9.77" lengthAdjust="spacingAndGlyphs">0</tspan></text>
<text transform="translate(1556.73 1358.98) rotate(45)" font-size="18.33"><tspan x="0.37" textLength="9.42" lengthAdjust="spacingAndGlyphs">2</tspan><tspan x="10.99" textLength="9.77" lengthAdjust="spacingAndGlyphs">0</tspan><tspan x="21.52" textLength="9.42" lengthAdjust="spacingAndGlyphs">2</tspan><tspan x="32.14" textLength="9.77" lengthAdjust="spacingAndGlyphs">4</tspan><tspan x="42.32" textLength="5.98" lengthAdjust="spacingAndGlyphs">-</tspan><tspan x="48.72" textLength="9.77" lengthAdjust="spacingAndGlyphs">0</tspan><tspan x="59.13" textLength="10.11" lengthAdjust="spacingAndGlyphs">6</tspan><tspan x="69.48" textLength="5.98" lengthAdjust="spacingAndGlyphs">-</tspan><tspan x="75.87" textLength="9.77" lengthAdjust="spacingAndGlyphs">0</tspan><tspan x="86.59" textLength="9.33" lengthAdjust="spacingAndGlyphs">1</tspan> <tspan x="102.31" textLength="9.77" lengthAdjust="spacingAndGlyphs">0</tspan><tspan x="112.89" textLength="9.77" lengthAdjust="spacingAndGlyphs">4</tspan><tspan x="123.36" textLength="5.01" lengthAdjust="spacingAndGlyphs">:</tspan><tspan x="129.07" textLength="9.77" lengthAdjust="spacingAndGlyphs">0</tspan><tspan x="139.65" textLength="9.77" lengthAdjust="spacingAndGlyphs">0</tspan></text>
<text transform="translate(1597.21 1358.98) rotate(45)" font-size="18.33"><tspan x="0.37" textLength="9.42" lengthAdjust="spacingAndGlyphs">2</tspan><tspan x="10.99" textLength="9.77" lengthAdjust="spacingAndGlyphs">0</tspan><tspan x="21.52" textLength="9.42" lengthAdjust="spacingAndGlyphs">2</tspan><tspan x="32.14" textLength="9.77" lengthAdjust="spacingAndGlyphs">4</tspan><tspan x="42.32" textLength="5.98" lengthAdjust="spacingAndGlyphs">-</tspan><tspan x="48.72" textLength="9.77" lengthAdjust="spacingAndGlyphs">0</tspan><tspan x="59.13" textLength="10.11" lengthAdjust="spacingAndGlyphs">6</tspan><tspan x="69.48" textLength="5.98" lengthAdjust="spacingAndGlyphs">-</tspan><tspan x="75.87" textLength="9.77" lengthAdjust="spacingAndGlyphs">0</tspan><tspan x="86.59" textLength="9.33" lengthAdjust="spacingAndGlyphs">1</tspan> <tspan x="102.31" textLength="9.77" lengthAdjust="spacingAndGlyphs">0</tspan><tspan x="113.10" textLength="9.22" lengthAdjust="spacingAndGlyphs">5</tspan><tspan x="123.36" textLength="5.01" lengthAdjust="spacingAndGlyphs">:</tspan><tspan x="129.07" textLength="9.77" lengthAdjust="spacingAndGlyphs">0</tspan><tspan x="139.65" textLength="9.77" lengthAdjust="spacingAndGlyphs">0</tspan></text>
<text transform="translate(1637.68 1358.98) rotate(45)" font-size="18.33"><tspan x="0.37" textLength="9.42" lengthAdjust="spacingAndGlyphs">2</tspan><tspan x="10.99" textLength="9.77" lengthAdjust="spacingAndGlyphs">0</tspan><tspan x="21.52" textLength="9.42" lengthAdjust="spacingAndGlyphs">2</tspan><tspan x="32.14" textLength="9.77" lengthAdjust="spacingAndGlyphs">4</tspan><tspan x="42.32" textLength="5.98" lengthAdjust="spacingAndGlyphs">-</tspan><tspan x="48.72" textLength="9.77" lengthAdjust="spacingAndGlyphs">0</tspan><tspan x="59.13" textLength="10.11" lengthAdjust="spacingAndGlyphs">6</tspan><tspan x="69.48" textLength="5.98" lengthAdjust="spacingAndGlyphs">-</tspan><tspan x="75.87" textLength="9.77" lengthAdjust="spacingAndGlyphs">0</tspan><tspan x="86.59" textLength="9.33" lengthAdjust="spacingAndGlyphs">1</tspan> <tspan x="102.31" textLength="9.77" lengthAdjust="spacingAndGlyphs">0</tspan><tspan x="112.72" textLength="10.11" lengthAdjust="spacingAndGlyphs">6</tspan><tspan x="123.36" textLength="5.01" lengthAdjust="spacingAndGlyphs">:</tspan><tspan x="129.07" textLength="9.77" lengthAdjust="spacingAndGlyphs">0</tspan><tspan x="139.65" textLength="9.77" lengthAdjust="spacingAndGlyphs">0</tspan></text>
<text transform="translate(1678.15 1358.98) rotate(45)" font-size="18.33"><tspan x="0.37" textLength="9.42" lengthAdjust="spacingAndGlyphs">2</tspan><tspan x="10.99" textLength="9.77" lengthAdjust="spacingAndGlyphs">0</tspan><tspan x="21.52" textLength="9.42" lengthAdjust="spacingAndGlyphs">2</tspan><tspan x="32.14" textLength="9.77" lengthAdjust="spacingAndGlyphs">4</tspan><tspan x="42.32" textLength="5.98" lengthAdjust="spacingAndGlyphs">-</tspan><tspan x="48.72" textLength="9.77" lengthAdjust="spacingAndGlyphs">0</tspan><tspan x="59.13" textLength="10.11" lengthAdjust="spacingAndGlyphs">6</tspan><tspan x="69.48" textLength="5.98" lengthAdjust="spacingAndGlyphs">-</tspan><tspan x="75.87" textLength="9.77" lengthAdjust="spacingAndGlyphs">0</tspan><tspan x="86.59" textLength="9.33" lengthAdjust="spacingAndGlyphs">1</tspan> <tspan x="102.31" textLength="9.77" lengthAdjust="spacingAndGlyphs">0</tspan><tspan x="112.96" textLength="9.56" lengthAdjust="spacingAndGlyphs">7</tspan><tspan x="123.36" textLength="5.01" lengthAdjust="spacingAndGlyphs">:</tspan><tspan x="129.07" textLength="9.77" lengthAdjust="spacingAndGlyphs">0</tspan><tspan x="139.65" textLength="9.77" lengthAdjust="spacingAndGlyphs">0</tspan></text>
<text transform="translate(1718.63 1358.98) rotate(45)" font-size="18.33"><tspan x="0.37" textLength="9.42" lengthAdjust="spacingAndGlyphs">2</tspan><tspan x="10.99" textLength="9.77" lengthAdjust="spacingAndGlyphs">0</tspan><tspan x="21.52" textLength="9.42" lengthAdjust="spacingAndGlyphs">2</tspan><tspan x="32.14" textLength="9.77" lengthAdjust="spacingAndGlyphs">4</tspan><tspan x="42.32" textLength="5.98" lengthAdjust="spacingAndGlyphs">-</tspan><tspan x="48.72" textLength="9.77" lengthAdjust="spacingAndGlyphs">0</tspan><tspan x="59.13" textLength="10.11" lengthAdjust="spacingAndGlyphs">6</tspan><tspan x="69.48" textLength="5.98" lengthAdjust="spacingAndGlyphs">-</tspan><tspan x="75.87" textLength="9.77" lengthAdjust="spacingAndGlyphs">0</tspan><tspan x="86.59" textLength="9.33" lengthAdjust="spacingAndGlyphs">1</tspan> <tspan x="102.31" textLength="9.77" lengthAdjust="spacingAndGlyphs">0</tspan><tspan x="112.84" textLength="9.88" lengthAdjust="spacingAndGlyphs">8</tspan><tspan x="123.36" textLength="5.01" lengthAdjust="spacingAndGlyphs">:</tspan><tspan x="129.07" textLength="9.77" lengthAdjust="spacingAndGlyphs">0</tspan><tspan x="139.65" textLength="9.77" lengthAdjust="spacingAndGlyphs">0</tspan></text>
<text transform="translate(1759.10 1358.98) rotate(45)" font-size="18.33"><tspan x="0.37" textLength="9.42" lengthAdjust="spacingAndGlyphs">2</tspan><tspan x="10.99" textLength="9.77" lengthAdjust="spacingAndGlyphs">0</tspan><tspan x="21.52" textLength="9.42" lengthAdjust="spacingAndGlyphs">2</tspan><tspan x="32.14" textLength="9.77" lengthAdjust="spacingAndGlyphs">4</tspan><tspan x="42.32" textLength="5.98" lengthAdjust="spacingAndGlyphs">-</tspan><tspan x="48.72" textLength="9.77" lengthAdjust="spacingAndGlyphs">0</tspan><tspan x="59.13" textLength="10.11" lengthAdjust="spacingAndGlyphs">6</tspan><tspan x="69.48" textLength="5.98" lengthAdjust="spacingAndGlyphs">-</tspan><tspan x="75.87" textLength="9.77" lengthAdjust="spacingAndGlyphs">0</tspan><tspan x="86.59" textLength="9.33" lengthAdjust="spacingAndGlyphs">1</tspan> <tspan x="102.31" textLength="9.77" lengthAdjust="spacingAndGlyphs">0</tspan><tspan x="112.68" textLength="10.09" lengthAdjust="spacingAndGlyphs">9</tspan><tspan x="123.36" textLength="5.01" lengthAdjust="spacingAndGlyphs">:</tspan><tspan x="129.07" textLength="9.77" lengthAdjust="spacingAndGlyphs">0</tspan><tspan x="139.65" textLength="9.77" lengthAdjust="spacingAndGlyphs">0</tspan></text>
<text transform="translate(1799.58 1358.98) rotate(45)" font-size="18.33"><tspan x="0.37" textLength="9.42" lengthAdjust="spacingAndGlyphs">2</tspan><tspan x="10.99" textLength="9.77" lengthAdjust="spacingAndGlyphs">0</tspan><tspan x="21.52" textLength="9.42" lengthAdjust="spacingAndGlyphs">2</tspan><tspan x="32.14" textLength="9.77" lengthAdjust="spacingAndGlyphs">4</tspan><tspan x="42.32" textLength="5.98" lengthAdjust="spacingAndGlyphs">-</tspan><tspan x="48.72" textLength="9.77" lengthAdjust="spacingAndGlyphs">0</tspan><tspan x="59.13" textLength="10.11" lengthAdjust="spacingAndGlyphs">6</tspan><tspan x="69.48" textLength="5.98" lengthAdjust="spacingAndGlyphs">-</tspan><tspan x="75.87" textLength="9.77" lengthAdjust="spacingAndGlyphs">0</tspan><tspan x="86.59" textLength="9.33" lengthAdjust="spacingAndGlyphs">1</tspan> <tspan x="102.45" textLength="9.33" lengthAdjust="spacingAndGlyphs">1</tspan><tspan x="112.89" textLength="9.77" lengthAdjust="spacingAndGlyphs">0</tspan><tspan x="123.36" textLength="5.01" lengthAdjust="spacingAndGlyphs">:</tspan><tspan x="129.07" textLength="9.77" lengthAdjust="spacingAndGlyphs">0</tspan><tspan x="139.65" textLength="9.77" lengthAdjust="spacingAndGlyphs">0</tspan></text>
<text transform="translate(1840.05 1358.98) rotate(45)" font-size="18.33"><tspan x="0.37" textLength="9.42" lengthAdjust="spacingAndGlyphs">2</tspan><tspan x="10.99" textLength="9.77" lengthAdjust="spacingAndGlyphs">0</tspan><tspan x="21.52" textLength="9.42" lengthAdjust="spacingAndGlyphs">2</tspan><tspan x="32.14" textLength="9.77" lengthAdjust="spacingAndGlyphs">4</tspan><tspan x="42.32" textLength="5.98" lengthAdjust="spacingAndGlyphs">-</tspan><tspan x="48.72" textLength="9.77" lengthAdjust="spacingAndGlyphs">0</tspan><tspan x="59.13" textLength="10.11" lengthAdjust="spacingAndGlyphs">6</tspan><tspan x="69.48" textLength="5.98" lengthAdjust="spacingAndGlyphs">-</tspan><tspan x="75.87" textLength="9.77" lengthAdjust="spacingAndGlyphs">0</tspan><tspan x="86.59" textLength="9.33" lengthAdjust="spacingAndGlyphs">1</tspan> <tspan x="102.45" textLength="9.33" lengthAdjust="spacingAndGlyphs">1</tspan><tspan x="113.03" textLength="9.33" lengthAdjust="spacingAndGlyphs">1</tspan><tspan x="123.36" textLength="5.01" lengthAdjust="spacingAndGlyphs">:</tspan><tspan x="129.07" textLength="9.77" lengthAdjust="spacingAndGlyphs">0</tspan><tspan x="139.65" textLength="9.77" lengthAdjust="spacingAndGlyphs">0</tspan></text>
<text transform="translate(1880.52 1358.98) rotate(45)" font-size="18.33"><tspan x="0.37" textLength="9.42" lengthAdjust="spacingAndGlyphs">2</tspan><tspan x="10.99" textLength="9.77" lengthAdjust="spacingAndGlyphs">0</tspan><tspan x="21.52" textLength="9.42" lengthAdjust="spacingAndGlyphs">2</tspan><tspan x="32.14" textLength="9.77" lengthAdjust="spacingAndGlyphs">4</tspan><tspan x="42.32" textLength="5.98" lengthAdjust="spacingAndGlyphs">-</tspan><tspan x="48.72" textLength="9.77" lengthAdjust="spacingAndGlyphs">0</tspan><tspan x="59.13" textLength="10.11" lengthAdjust="spacingAndGlyphs">6</tspan><tspan x="69.48" textLength="5.98" lengthAdjust="spacingAndGlyphs">-</tspan><tspan x="75.87" textLength="9.77" lengthAdjust="spacingAndGlyphs">0</tspan><tspan x="86.59" textLength="9.33" lengthAdjust="spacingAndGlyphs">1</tspan> <tspan x="102.45" textLength="9.33" lengthAdjust="spacingAndGlyphs">1</tspan><tspan x="112.85" textLength="9.42" lengthAdjust="spacingAndGlyphs">2</tspan><tspan x="123.36" textLength="5.01" lengthAdjust="spacingAndGlyphs">:</tspan><tspan x="129.07" textLength="9.77" lengthAdjust="spacingAndGlyphs">0</tspan><tspan x="139.65" textLength="9.77" lengthAdjust="spacingAndGlyphs">0</tspan></text>
<text transform="translate(1921.00 1358.98) rotate(45)" font-size="18.33"><tspan x="0.37" textLength="9.42" lengthAdjust="spacingAndGlyphs">2</tspan><tspan x="10.99" textLength="9.77" lengthAdjust="spacingAndGlyphs">0</tspan><tspan x="21.52" textLength="9.42" lengthAdjust="spacingAndGlyphs">2</tspan><tspan x="32.14" textLength="9.77" lengthAdjust="spacingAndGlyphs">4</tspan><tspan x="42.32" textLength="5.98" lengthAdjust="spacingAndGlyphs">-</tspan><tspan x="48.72" textLength="9.77" lengthAdjust="spacingAndGlyphs">0</tspan><tspan x="59.13" textLength="10.11" lengthAdjust="spacingAndGlyphs">6</tspan><tspan x="69.48" textLength="5.98" lengthAdjust="spacingAndGlyphs">-</tspan><tspan x="75.87" textLength="9.77" lengthAdjust="spacingAndGlyphs">0</tspan><tspan x="86.59" textLength="9.33" lengthAdjust="spacingAndGlyphs">1</tspan> <tspan x="102.45" textLength="9.33" lengthAdjust="spacingAndGlyphs">1</tspan><tspan x="113.11" textLength="9.38" lengthAdjust="spacingAndGlyphs">3</tspan><tspan x="123.36" textLength="5.01" lengthAdjust="spacingAndGlyphs">:</tspan><tspan x="129.07" textLength="9.77" lengthAdjust="spacingAndGlyphs">0</tspan><tspan x="139.65" textLength="9.77" lengthAdjust="spacingAndGlyphs">0</tspan></text>
<text transform="translate(1961.47 1358.98) rotate(45)" font-size="18.33"><tspan x="0.37" textLength="9.42" lengthAdjust="spacingAndGlyphs">2</tspan><tspan x="10.99" textLength="9.77" lengthAdjust="spacingAndGlyphs">0</tspan><tspan x="21.52" textLength="9.42" lengthAdjust="spacingAndGlyphs">2</tspan><tspan x="32.14" textLength="9.77" lengthAdjust="spacingAndGlyphs">4</tspan><tspan x="42.32" textLength="5.98" lengthAdjust="spacingAndGlyphs">-</tspan><tspan x="48.72" textLength="9.77" lengthAdjust="spacingAndGlyphs">0</tspan><tspan x="59.13" textLength="10.11" lengthAdjust="spacingAndGlyphs">6</tspan><tspan x="69.48" textLength="5.98" lengthAdjust="spacingAndGlyphs">-</tspan><tspan x="75.87" textLength="9.77" lengthAdjust="spacingAndGlyphs">0</tspan><tspan x="86.59" textLength="9.33" lengthAdjust="spacingAndGlyphs">1</tspan> <tspan x="102.45" textLength="9.33" lengthAdjust="spacingAndGlyphs">1</tspan><tspan x="112.89" textLength="9.77" lengthAdjust="spacingAndGlyphs">4</tspan><tspan x="123.36" textLength="5.01" lengthAdjust="spacingAndGlyphs">:</tspan><tspan x="129.07" textLength="9.77" lengthAdjust="spacingAndGlyphs">0</tspan><tspan x="139.65" textLength="9.77" lengthAdjust="spacingAndGlyphs">0</tspan></text>
<text transform="translate(2001.95 1358.98) rotate(45)" font-size="18.33"><tspan x="0.37" textLength="9.42" lengthAdjust="spacingAndGlyphs">2</tspan><tspan x="10.99" textLength="9.77" lengthAdjust="spacingAndGlyphs">0</tspan><tspan x="21.52" textLength="9.42" lengthAdjust="spacingAndGlyphs">2</tspan><tspan x="32.14" textLength="9.77" lengthAdjust="spacingAndGlyphs">4</tspan><tspan x="42.32" textLength="5.98" lengthAdjust="spacingAndGlyphs">-</tspan><tspan x="48.72" textLength="9.77" lengthAdjust="spacingAndGlyphs">0</tspan><tspan x="59.13" textLength="10.11" lengthAdjust="spacingAndGlyphs">6</tspan><tspan x="69.48" textLength="5.98" lengthAdjust="spacingAndGlyphs">-</tspan><tspan x="75.87" textLength="9.77" lengthAdjust="spacingAndGlyphs">0</tspan><tspan x="86.59" textLength="9.33" lengthAdjust="spacingAndGlyphs">1</tspan> <tspan x="102.45" textLength="9.33" lengthAdjust="spacingAndGlyphs">1</tspan><tspan x="113.10" textLength="9.22" lengthAdjust="spacingAndGlyphs">5</tspan><tspan x="123.36" textLength="5.01" lengthAdjust="spacingAndGlyphs">:</tspan><tspan x="129.07" textLength="9.77" lengthAdjust="spacingAndGlyphs">0</tspan><tspan x="139.65" textLength="9.77" lengthAdjust="spacingAndGlyphs">0</tspan></text>
<text transform="translate(2042.42 1358.98) rotate(45)" font-size="18.33"><tspan x="0.37" textLength="9.42" lengthAdjust="spacingAndGlyphs">2</tspan><tspan x="10.99" textLength="9.77" lengthAdjust="spacingAndGlyphs">0</tspan><tspan x="21.52" textLength="9.42" lengthAdjust="spacingAndGlyphs">2</tspan><tspan x="32.14" textLength="9.77" lengthAdjust="spacingAndGlyphs">4</tspan><tspan x="42.32" textLength="5.98" lengthAdjust="spacingAndGlyphs">-</tspan><tspan x="48.72" textLength="9.77" lengthAdjust="spacingAndGlyphs">0</tspan><tspan x="59.13" textLength="10.11" lengthAdjust="spacingAndGlyphs">6</tspan><tspan x="69.48" textLength="5.98" lengthAdjust="spacingAndGlyphs">-</tspan><tspan x="75.87" textLength="9.77" lengthAdjust="spacingAndGlyphs">0</tspan><tspan x="86.59" textLength="9.33" lengthAdjust="spacingAndGlyphs">1</tspan> <tspan x="102.45" textLength="9.33" lengthAdjust="spacingAndGlyphs">1</tspan><tspan x="112.72" textLength="10.11" lengthAdjust="spacingAndGlyphs">6</tspan><tspan x="123.36" textLength="5.01" lengthAdjust="spacingAndGlyphs">:</tspan><tspan x="129.07" textLength="9.77" lengthAdjust="spacingAndGlyphs">0</tspan><tspan x="139.65" textLength="9.77" lengthAdjust="spacingAndGlyphs">0</tspan></text>
<text transform="translate(2082.89 1358.98) rotate(45)" font-size="18.33"><tspan x="0.37" textLength="9.42" lengthAdjust="spacingAndGlyphs">2</tspan><tspan x="10.99" textLength="9.77" lengthAdjust="spacingAndGlyphs">0</tspan><tspan x="21.52" textLength="9.42" lengthAdjust="spacingAndGlyphs">2</tspan><tspan x="32.14" textLength="9.77" lengthAdjust="spacingAndGlyphs">4</tspan><tspan x="42.32" textLength="5.98" lengthAdjust="spacingAndGlyphs">-</tspan><tspan x="48.72" textLength="9.77" lengthAdjust="spacingAndGlyphs">0</tspan><tspan x="59.13" textLength="10.11" lengthAdjust="spacingAndGlyphs">6</tspan><tspan x="69.48" textLength="5.98" lengthAdjust="spacingAndGlyphs">-</tspan><tspan x="75.87" textLength="9.77" lengthAdjust="spacingAndGlyphs">0</tspan><tspan x="86.59" textLength="9.33" lengthAdjust="spacingAndGlyphs">1</tspan> <tspan x="102.45" textLength="9.33" lengthAdjust="spacingAndGlyphs">1</tspan><tspan x="112.96" textLength="9.56" lengthAdjust="spacingAndGlyphs">7</tspan><tspan x="123.36" textLength="5.01" lengthAdjust="spacingAndGlyphs">:</tspan><tspan x="129.07" textLength="9.77" lengthAdjust="spacingAndGlyphs">0</tspan><tspan x="139.65" textLength="9.77" lengthAdjust="spacingAndGlyphs">0</tspan></text>
<text transform="translate(2123.37 1358.98) rotate(45)" font-size="18.33"><tspan x="0.37" textLength="9.42" lengthAdjust="spacingAndGlyphs">2</tspan><tspan x="10.99" textLength="9.77" lengthAdjust="spacingAndGlyphs">0</tspan><tspan x="21.52" textLength="9.42" lengthAdjust="spacingAndGlyphs">2</tspan><tspan x="32.14" textLength="9.77" lengthAdjust="spacingAndGlyphs">4</tspan><tspan x="42.32" textLength="5.98" lengthAdjust="spacingAndGlyphs">-</tspan><tspan x="48.72" textLength="9.77" lengthAdjust="spacingAndGlyphs">0</tspan><tspan x="59.13" textLength="10.11" lengthAdjust="spacingAndGlyphs">6</tspan><tspan x="69.48" textLength="5.98" lengthAdjust="spacingAndGlyphs">-</tspan><tspan x="75.87" textLength="9.77" lengthAdjust="spacingAndGlyphs">0</tspan><tspan x="86.59" textLength="9.33" lengthAdjust="spacingAndGlyphs">1</tspan> <tspan x="102.45" textLength="9.33" lengthAdjust="spacingAndGlyphs">1</tspan><tspan x="112.84" textLength="9.88" lengthAdjust="spacingAndGlyphs">8</tspan><tspan x="123.36" textLength="5.01" lengthAdjust="spacingAndGlyphs">:</tspan><tspan x="129.07" textLength="9.77" lengthAdjust="spacingAndGlyphs">0</tspan><tspan x="139.65" textLength="9.77" lengthAdjust="spacingAndGlyphs">0</tspan></text>
<text transform="translate(2163.84 1358.98) rotate(45)" font-size="18.33"><tspan x="0.37" textLength="9.42" lengthAdjust="spacingAndGlyphs">2</tspan><tspan x="10.99" textLength="9.77" lengthAdjust="spacingAndGlyphs">0</tspan><tspan x="21.52" textLength="9.42" lengthAdjust="spacingAndGlyphs">2</tspan><tspan x="32.14" textLength="9.77" lengthAdjust="spacingAndGlyphs">4</tspan><tspan x="42.32" textLength="5.98" lengthAdjust="spacingAndGlyphs">-</tspan><tspan x="48.72" textLength="9.77" lengthAdjust="spacingAndGlyphs">0</tspan><tspan x="59.13" textLength="10.11" lengthAdjust="spacingAndGlyphs">6</tspan><tspan x="69.48" textLength="5.98" lengthAdjust="spacingAndGlyphs">-</tspan><tspan x="75.87" textLength="9.77" lengthAdjust="spacingAndGlyphs">0</tspan><tspan x="86.59" textLength="9.33" lengthAdjust="spacingAndGlyphs">1</tspan> <tspan x="102.45" textLength="9.33" lengthAdjust="spacingAndGlyphs">1</tspan><tspan x="112.68" textLength="10.09" lengthAdjust="spacingAndGlyphs">9</tspan><tspan x="123.36" textLength="5.01" lengthAdjust="spacingAndGlyphs">:</tspan><tspan x="129.07" textLength="9.77" lengthAdjust="spacingAndGlyphs">0</tspan><tspan x="139.65" textLength="9.77" lengthAdjust="spacingAndGlyphs">0</tspan></text>
<text transform="translate(2204.32 1358.98) rotate(45)" font-size="18.33"><tspan x="0.37" textLength="9.42" lengthAdjust="spacingAndGlyphs">2</tspan><tspan x="10.99" textLength="9.77" lengthAdjust="spacingAndGlyphs">0</tspan><tspan x="21.52" textLength="9.42" lengthAdjust="spacingAndGlyphs">2</tspan><tspan x="32.14" textLength="9.77" lengthAdjust="spacingAndGlyphs">4</tspan><tspan x="42.32" textLength="5.98" lengthAdjust="spacingAndGlyphs">-</tspan><tspan x="48.72" textLength="9.77" lengthAdjust="spacingAndGlyphs">0</tspan><tspan x="59.13" textLength="10.11" lengthAdjust="spacingAndGlyphs">6</tspan><tspan x="69.48" textLength="5.98" lengthAdjust="spacingAndGlyphs">-</tspan><tspan x="75.87" textLength="9.77" lengthAdjust="spacingAndGlyphs">0</tspan><tspan x="86.59" textLength="9.33" lengthAdjust="spacingAndGlyphs">1</tspan> <tspan x="102.27" textLength="9.42" lengthAdjust="spacingAndGlyphs">2</tspan><tspan x="112.89" textLength="9.77" lengthAdjust="spacingAndGlyphs">0</tspan><tspan x="123.36" textLength="5.01" lengthAdjust="spacingAndGlyphs">:</tspan><tspan x="129.07" textLength="9.77" lengthAdjust="spacingAndGlyphs">0</tspan><tspan x="139.65" textLength="9.77" lengthAdjust="spacingAndGlyphs">0</tspan></text>
<text transform="translate(2244.79 1358.98) rotate(45)" font-size="18.33"><tspan x="0.37" textLength="9.42" lengthAdjust="spacingAndGlyphs">2</tspan><tspan x="10.99" textLength="9.77" lengthAdjust="spacingAndGlyphs">0</tspan><tspan x="21.52" textLength="9.42" lengthAdjust="spacingAndGlyphs">2</tspan><tspan x="32.14" textLength="9.77" lengthAdjust="spacingAndGlyphs">4</tspan><tspan x="42.32" textLength="5.98" lengthAdjust="spacingAndGlyphs">-</tspan><tspan x="48.72" textLength="9.77" lengthAdjust="spacingAndGlyphs">0</tspan><tspan x="59.13" textLength="10.11" lengthAdjust="spacingAndGlyphs">6</tspan><tspan x="69.48" textLength="5.98" lengthAdjust="spacingAndGlyphs">-</tspan><tspan x="75.87" textLength="9.77" lengthAdjust="spacingAndGlyphs">0</tspan><tspan x="86.59" textLength="9.33" lengthAdjust="spacingAndGlyphs">1</tspan> <tspan x="102.27" textLength="9.42" lengthAdjust="spacingAndGlyphs">2</tspan><tspan x="113.03" textLength="9.33" lengthAdjust="spacingAndGlyphs">1</tspan><tspan x="123.36" textLength="5.01" lengthAdjust="spacingAndGlyphs">:</tspan><tspan x="129.07" textLength="9.77" lengthAdjust="spacingAndGlyphs">0</tspan><tspan x="139.65" textLength="9.77" lengthAdjust="spacingAndGlyphs">0</tspan></text>
<text transform="translate(2285.26 1358.98) rotate(45)" font-size="18.33"><tspan x="0.37" textLength="9.42" lengthAdjust="spacingAndGlyphs">2</tspan><tspan x="10.99" textLength="9.77" lengthAdjust="spacingAndGlyphs">0</tspan><tspan x="21.52" textLength="9.42" lengthAdjust="spacingAndGlyphs">2</tspan><tspan x="32.14" textLength="9.77" lengthAdjust="spacingAndGlyphs">4</tspan><tspan x="42.32" textLength="5.98" lengthAdjust="spacingAndGlyphs">-</tspan><tspan x="48.72" textLength="9.77" lengthAdjust="spacingAndGlyphs">0</tspan><tspan x="59.13" textLength="10.11" lengthAdjust="spacingAndGlyphs">6</tspan><tspan x="69.48" textLength="5.98" lengthAdjust="spacingAndGlyphs">-</tspan><tspan x="75.87" textLength="9.77" lengthAdjust="spacingAndGlyphs">0</tspan><tspan x="86.59" textLength="9.33" lengthAdjust="spacingAndGlyphs">1</tspan> <tspan x="102.27" textLength="9.42" lengthAdjust="spacingAndGlyphs">2</tspan><tspan x="112.85" textLength="9.42" lengthAdjust="spacingAndGlyphs">2</tspan><tspan x="123.36" textLength="5.01" lengthAdjust="spacingAndGlyphs">:</tspan><tspan x="129.07" textLength="9.77" lengthAdjust="spacingAndGlyphs">0</tspan><tspan x="139.65" textLength="9.77" lengthAdjust="spacingAndGlyphs">0</tspan></text>
<text transform="translate(2325.74 1358.98) rotate(45)" font-size="18.33"><tspan x="0.37" textLength="9.42" lengthAdjust="spacingAndGlyphs">2</tspan><tspan x="10.99" textLength="9.77" lengthAdjust="spacingAndGlyphs">0</tspan><tspan x="21.52" textLength="9.42" lengthAdjust="spacingAndGlyphs">2</tspan><tspan x="32.14" textLength="9.77" lengthAdjust="spacingAndGlyphs">4</tspan><tspan x="42.32" textLength="5.98" lengthAdjust="spacingAndGlyphs">-</tspan><tspan x="48.72" textLength="9.77" lengthAdjust="spacingAndGlyphs">0</tspan><tspan x="59.13" textLength="10.11" lengthAdjust="spacingAndGlyphs">6</tspan><tspan x="69.48" textLength="5.98" lengthAdjust="spacingAndGlyphs">-</tspan><tspan x="75.87" textLength="9.77" lengthAdjust="spacingAndGlyphs">0</tspan><tspan x="86.59" textLength="9.33" lengthAdjust="spacingAndGlyphs">1</tspan> <tspan x="102.27" textLength="9.42" lengthAdjust="spacingAndGlyphs">2</tspan><tspan x="113.11" textLength="9.38" lengthAdjust="spacingAndGlyphs">3</tspan><tspan x="123.36" textLength="5.01" lengthAdjust="spacingAndGlyphs">:</tspan><tspan x="129.07" textLength="9.77" lengthAdjust="spacingAndGlyphs">0</tspan><tspan x="139.65" textLength="9.77" lengthAdjust="spacingAndGlyphs">0</tspan></text>
<text transform="translate(1330.00 1492.36)" font-size="22.19"><tspan x="0.28" textLength="15.57" lengthAdjust="spacingAndGlyphs">D</tspan><tspan x="16.53" textLength="10.42" lengthAdjust="spacingAndGlyphs">a</tspan><tspan x="29.00" textLength="7.74" lengthAdjust="spacingAndGlyphs">t</tspan><tspan x="37.24" textLength="12.51" lengthAdjust="spacingAndGlyphs">e</tspan> <tspan x="56.87" textLength="14.97" lengthAdjust="spacingAndGlyphs">H</tspan><tspan x="72.45" textLength="12.32" lengthAdjust="spacingAndGlyphs">o</tspan><tspan x="85.31" textLength="12.49" lengthAdjust="spacingAndGlyphs">u</tspan><tspan x="98.35" textLength="8.89" lengthAdjust="spacingAndGlyphs">r</tspan></text>
<text transform="translate(258.29 1343.00)" font-size="21.56"><tspan x="0.88" textLength="15.68" lengthAdjust="spacingAndGlyphs">−</tspan><tspan x="18.18" textLength="11.67" lengthAdjust="spacingAndGlyphs">1</tspan><tspan x="30.94" textLength="6.26" lengthAdjust="spacingAndGlyphs">.</tspan><tspan x="37.92" textLength="12.21" lengthAdjust="spacingAndGlyphs">0</tspan><tspan x="51.20" textLength="12.21" lengthAdjust="spacingAndGlyphs">0</tspan></text>
<text transform="translate(258.29 1198.62)" font-size="21.56"><tspan x="0.88" textLength="15.68" lengthAdjust="spacingAndGlyphs">−</tspan><tspan x="18.01" textLength="12.21" lengthAdjust="spacingAndGlyphs">0</tspan><tspan x="30.94" textLength="6.26" lengthAdjust="spacingAndGlyphs">.</tspan><tspan x="38.02" textLength="11.95" lengthAdjust="spacingAndGlyphs">7</tspan><tspan x="51.47" textLength="11.53" lengthAdjust="spacingAndGlyphs">5</tspan></text>
<text transform="translate(258.29 1054.25)" font-size="21.56"><tspan x="0.88" textLength="15.68" lengthAdjust="spacingAndGlyphs">−</tspan><tspan x="18.01" textLength="12.21" lengthAdjust="spacingAndGlyphs">0</tspan><tspan x="30.94" textLength="6.26" lengthAdjust="spacingAndGlyphs">.</tspan><tspan x="38.19" textLength="11.53" lengthAdjust="spacingAndGlyphs">5</tspan><tspan x="51.20" textLength="12.21" lengthAdjust="spacingAndGlyphs">0</tspan></text>
<text transform="translate(258.29 909.88)" font-size="21.56"><tspan x="0.88" textLength="15.68" lengthAdjust="spacingAndGlyphs">−</tspan><tspan x="18.01" textLength="12.21" lengthAdjust="spacingAndGlyphs">0</tspan><tspan x="30.94" textLength="6.26" lengthAdjust="spacingAndGlyphs">.</tspan><tspan x="37.87" textLength="11.77" lengthAdjust="spacingAndGlyphs">2</tspan><tspan x="51.47" textLength="11.53" lengthAdjust="spacingAndGlyphs">5</tspan></text>
<text transform="translate(275.79 765.50)" font-size="21.56"><tspan x="0.52" textLength="12.21" lengthAdjust="spacingAndGlyphs">0</tspan><tspan x="13.45" textLength="6.26" lengthAdjust="spacingAndGlyphs">.</tspan><tspan x="20.43" textLength="12.21" lengthAdjust="spacingAndGlyphs">0</tspan><tspan x="33.71" textLength="12.21" lengthAdjust="spacingAndGlyphs">0</tspan></text>
<text transform="translate(275.79 621.12)" font-size="21.56"><tspan x="0.52" textLength="12.21" lengthAdjust="spacingAndGlyphs">0</tspan><tspan x="13.45" textLength="6.26" lengthAdjust="spacingAndGlyphs">.</tspan><tspan x="20.38" textLength="11.77" lengthAdjust="spacingAndGlyphs">2</tspan><tspan x="33.98" textLength="11.53" lengthAdjust="spacingAndGlyphs">5</tspan></text>
<text transform="translate(275.79 476.75)" font-size="21.56"><tspan x="0.52" textLength="12.21" lengthAdjust="spacingAndGlyphs">0</tspan><tspan x="13.45" textLength="6.26" lengthAdjust="spacingAndGlyphs">.</tspan><tspan x="20.69" textLength="11.53" lengthAdjust="spacingAndGlyphs">5</tspan><tspan x="33.71" textLength="12.21" lengthAdjust="spacingAndGlyphs">0</tspan></text>
<text transform="translate(275.79 332.38)" font-size="21.56"><tspan x="0.52" textLength="12.21" lengthAdjust="spacingAndGlyphs">0</tspan><tspan x="13.45" textLength="6.26" lengthAdjust="spacingAndGlyphs">.</tspan><tspan x="20.52" textLength="11.95" lengthAdjust="spacingAndGlyphs">7</tspan><tspan x="33.98" textLength="11.53" lengthAdjust="spacingAndGlyphs">5</tspan></text>
<text transform="translate(275.79 188.00)" font-size="21.56"><tspan x="0.69" textLength="11.67" lengthAdjust="spacingAndGlyphs">1</tspan><tspan x="13.45" textLength="6.26" lengthAdjust="spacingAndGlyphs">.</tspan><tspan x="20.43" textLength="12.21" lengthAdjust="spacingAndGlyphs">0</tspan><tspan x="33.71" textLength="12.21" lengthAdjust="spacingAndGlyphs">0</tspan></text>
<text transform="translate(245.71 956.69) rotate(-90)" font-size="22.50"><tspan x="0.34" textLength="17.30" lengthAdjust="spacingAndGlyphs">M</tspan><tspan x="18.20" textLength="12.51" lengthAdjust="spacingAndGlyphs">e</tspan><tspan x="31.31" textLength="10.42" lengthAdjust="spacingAndGlyphs">a</tspan><tspan x="44.05" textLength="12.49" lengthAdjust="spacingAndGlyphs">n</tspan> <tspan x="64.04" textLength="12.39" lengthAdjust="spacingAndGlyphs">S</tspan><tspan x="76.96" textLength="12.51" lengthAdjust="spacingAndGlyphs">e</tspan><tspan x="90.01" textLength="12.49" lengthAdjust="spacingAndGlyphs">n</tspan><tspan x="102.97" textLength="7.74" lengthAdjust="spacingAndGlyphs">t</tspan><tspan x="111.56" textLength="4.73" lengthAdjust="spacingAndGlyphs">i</tspan><tspan x="117.14" textLength="19.77" lengthAdjust="spacingAndGlyphs">m</tspan><tspan x="137.35" textLength="12.51" lengthAdjust="spacingAndGlyphs">e</tspan><tspan x="150.40" textLength="12.49" lengthAdjust="spacingAndGlyphs">n</tspan><tspan x="163.37" textLength="7.74" lengthAdjust="spacingAndGlyphs">t</tspan> <tspan x="178.75" textLength="5.86" lengthAdjust="spacingAndGlyphs">(</tspan><tspan x="186.72" textLength="12.39" lengthAdjust="spacingAndGlyphs">S</tspan><tspan x="199.58" textLength="7.74" lengthAdjust="spacingAndGlyphs">t</tspan><tspan x="208.08" textLength="10.42" lengthAdjust="spacingAndGlyphs">a</tspan><tspan x="220.82" textLength="12.49" lengthAdjust="spacingAndGlyphs">n</tspan><tspan x="233.85" textLength="12.59" lengthAdjust="spacingAndGlyphs">d</tspan><tspan x="247.36" textLength="10.42" lengthAdjust="spacingAndGlyphs">a</tspan><tspan x="259.81" textLength="8.89" lengthAdjust="spacingAndGlyphs">r</tspan><tspan x="268.10" textLength="12.59" lengthAdjust="spacingAndGlyphs">d</tspan> <tspan x="288.06" textLength="15.57" lengthAdjust="spacingAndGlyphs">D</tspan><tspan x="304.06" textLength="12.51" lengthAdjust="spacingAndGlyphs">e</tspan><tspan x="317.25" textLength="11.24" lengthAdjust="spacingAndGlyphs">v</tspan><tspan x="329.60" textLength="4.73" lengthAdjust="spacingAndGlyphs">i</tspan><tspan x="335.31" textLength="10.42" lengthAdjust="spacingAndGlyphs">a</tspan><tspan x="347.79" textLength="7.74" lengthAdjust="spacingAndGlyphs">t</tspan><tspan x="356.37" textLength="4.73" lengthAdjust="spacingAndGlyphs">i</tspan><tspan x="361.85" textLength="12.32" lengthAdjust="spacingAndGlyphs">o</tspan><tspan x="374.81" textLength="12.49" lengthAdjust="spacingAndGlyphs">n</tspan><tspan x="389.20" textLength="5.86" lengthAdjust="spacingAndGlyphs">)</tspan></text>
<text transform="translate(1196.06 166.50)" font-size="25.87"><tspan x="0.64" textLength="14.86" lengthAdjust="spacingAndGlyphs">S</tspan><tspan x="16.10" textLength="15.02" lengthAdjust="spacingAndGlyphs">e</tspan><tspan x="31.73" textLength="14.99" lengthAdjust="spacingAndGlyphs">n</tspan><tspan x="47.26" textLength="9.28" lengthAdjust="spacingAndGlyphs">t</tspan><tspan x="57.54" textLength="5.68" lengthAdjust="spacingAndGlyphs">i</tspan><tspan x="64.22" textLength="23.73" lengthAdjust="spacingAndGlyphs">m</tspan><tspan x="88.43" textLength="15.02" lengthAdjust="spacingAndGlyphs">e</tspan><tspan x="104.06" textLength="14.99" lengthAdjust="spacingAndGlyphs">n</tspan><tspan x="119.59" textLength="9.28" lengthAdjust="spacingAndGlyphs">t</tspan> <tspan x="137.40" textLength="19.22" lengthAdjust="spacingAndGlyphs">O</tspan><tspan x="157.50" textLength="13.49" lengthAdjust="spacingAndGlyphs">v</tspan><tspan x="171.88" textLength="15.02" lengthAdjust="spacingAndGlyphs">e</tspan><tspan x="187.17" textLength="10.67" lengthAdjust="spacingAndGlyphs">r</tspan> <tspan x="204.56" textLength="16.66" lengthAdjust="spacingAndGlyphs">T</tspan><tspan x="220.42" textLength="5.68" lengthAdjust="spacingAndGlyphs">i</tspan><tspan x="227.09" textLength="23.73" lengthAdjust="spacingAndGlyphs">m</tspan><tspan x="251.30" textLength="15.02" lengthAdjust="spacingAndGlyphs">e</tspan> <tspan x="274.91" textLength="15.13" lengthAdjust="spacingAndGlyphs">b</tspan><tspan x="290.94" textLength="13.42" lengthAdjust="spacingAndGlyphs">y</tspan> <tspan x="312.32" textLength="16.66" lengthAdjust="spacingAndGlyphs">T</tspan><tspan x="324.29" textLength="14.78" lengthAdjust="spacingAndGlyphs">o</tspan><tspan x="339.84" textLength="15.13" lengthAdjust="spacingAndGlyphs">p</tspan><tspan x="355.84" textLength="5.68" lengthAdjust="spacingAndGlyphs">i</tspan><tspan x="362.45" textLength="12.54" lengthAdjust="spacingAndGlyphs">c</tspan></text>
<rect x="2075" y="190" width="345" height="98" rx="4.17" ry="4.17" fill="#fff" fill-opacity="0.8" stroke="#ccc" stroke-opacity="0.8" stroke-width="2.083"/>
<path d="M2084.5 207.50H2125.5" stroke="#1f77b4" stroke-width="3.1250" stroke-linecap="square" fill="none"/>
<path d="M2084.5 238.50H2125.5" stroke="#ff7f0e" stroke-width="3.1250" stroke-linecap="square" fill="none"/>
<path d="M2084.5 268.50H2125.5" stroke="#2ca02c" stroke-width="3.1250" stroke-linecap="square" fill="none"/>
<text transform="translate(2142.13 214.75)" font-size="21.56"><tspan x="0.46" textLength="10.42" lengthAdjust="spacingAndGlyphs">a</tspan><tspan x="12.91" textLength="8.89" lengthAdjust="spacingAndGlyphs">r</tspan><tspan x="21.51" textLength="7.74" lengthAdjust="spacingAndGlyphs">t</tspan><tspan x="30.10" textLength="4.73" lengthAdjust="spacingAndGlyphs">i</tspan><tspan x="35.45" textLength="7.60" lengthAdjust="spacingAndGlyphs">f</tspan><tspan x="43.25" textLength="4.73" lengthAdjust="spacingAndGlyphs">i</tspan><tspan x="48.77" textLength="10.45" lengthAdjust="spacingAndGlyphs">c</tspan><tspan x="60.52" textLength="4.73" lengthAdjust="spacingAndGlyphs">i</tspan><tspan x="66.24" textLength="10.42" lengthAdjust="spacingAndGlyphs">a</tspan><tspan x="79.11" textLength="4.73" lengthAdjust="spacingAndGlyphs">l</tspan><tspan x="84.92" textLength="4.73" lengthAdjust="spacingAndGlyphs">i</tspan><tspan x="90.58" textLength="12.49" lengthAdjust="spacingAndGlyphs">n</tspan><tspan x="103.54" textLength="7.74" lengthAdjust="spacingAndGlyphs">t</tspan><tspan x="111.79" textLength="12.51" lengthAdjust="spacingAndGlyphs">e</tspan><tspan x="124.96" textLength="4.73" lengthAdjust="spacingAndGlyphs">l</tspan><tspan x="130.76" textLength="4.73" lengthAdjust="spacingAndGlyphs">l</tspan><tspan x="136.57" textLength="4.73" lengthAdjust="spacingAndGlyphs">i</tspan><tspan x="142.03" textLength="12.59" lengthAdjust="spacingAndGlyphs">g</tspan><tspan x="155.28" textLength="12.51" lengthAdjust="spacingAndGlyphs">e</tspan><tspan x="168.33" textLength="12.49" lengthAdjust="spacingAndGlyphs">n</tspan><tspan x="181.42" textLength="10.45" lengthAdjust="spacingAndGlyphs">c</tspan><tspan x="192.83" textLength="12.51" lengthAdjust="spacingAndGlyphs">e</tspan> <tspan x="212.45" textLength="17.30" lengthAdjust="spacingAndGlyphs">M</tspan><tspan x="230.32" textLength="12.51" lengthAdjust="spacingAndGlyphs">e</tspan><tspan x="243.42" textLength="10.42" lengthAdjust="spacingAndGlyphs">a</tspan><tspan x="256.16" textLength="12.49" lengthAdjust="spacingAndGlyphs">n</tspan></text>
<text transform="translate(2142.13 245.17)" font-size="21.56"><tspan x="0.26" textLength="10.45" lengthAdjust="spacingAndGlyphs">c</tspan><tspan x="11.67" textLength="12.51" lengthAdjust="spacingAndGlyphs">e</tspan><tspan x="24.85" textLength="4.73" lengthAdjust="spacingAndGlyphs">l</tspan><tspan x="30.31" textLength="12.51" lengthAdjust="spacingAndGlyphs">e</tspan><tspan x="43.39" textLength="12.61" lengthAdjust="spacingAndGlyphs">b</tspan><tspan x="56.33" textLength="8.89" lengthAdjust="spacingAndGlyphs">r</tspan><tspan x="65.33" textLength="4.73" lengthAdjust="spacingAndGlyphs">i</tspan><tspan x="70.73" textLength="7.74" lengthAdjust="spacingAndGlyphs">t</tspan><tspan x="79.32" textLength="4.73" lengthAdjust="spacingAndGlyphs">i</tspan><tspan x="84.77" textLength="12.51" lengthAdjust="spacingAndGlyphs">e</tspan><tspan x="98.00" textLength="9.99" lengthAdjust="spacingAndGlyphs">s</tspan> <tspan x="115.28" textLength="17.30" lengthAdjust="spacingAndGlyphs">M</tspan><tspan x="133.14" textLength="12.51" lengthAdjust="spacingAndGlyphs">e</tspan><tspan x="146.24" textLength="10.42" lengthAdjust="spacingAndGlyphs">a</tspan><tspan x="158.98" textLength="12.49" lengthAdjust="spacingAndGlyphs">n</tspan></text>
<text transform="translate(2142.13 275.58)" font-size="21.56"><tspan x="0.43" textLength="12.61" lengthAdjust="spacingAndGlyphs">p</tspan><tspan x="13.47" textLength="12.32" lengthAdjust="spacingAndGlyphs">o</tspan><tspan x="26.55" textLength="4.73" lengthAdjust="spacingAndGlyphs">l</tspan><tspan x="32.36" textLength="4.73" lengthAdjust="spacingAndGlyphs">i</tspan><tspan x="37.76" textLength="7.74" lengthAdjust="spacingAndGlyphs">t</tspan><tspan x="46.35" textLength="4.73" lengthAdjust="spacingAndGlyphs">i</tspan><tspan x="51.87" textLength="10.45" lengthAdjust="spacingAndGlyphs">c</tspan><tspan x="63.66" textLength="9.99" lengthAdjust="spacingAndGlyphs">s</tspan> <tspan x="80.94" textLength="17.30" lengthAdjust="spacingAndGlyphs">M</tspan><tspan x="98.80" textLength="12.51" lengthAdjust="spacingAndGlyphs">e</tspan><tspan x="111.90" textLength="10.42" lengthAdjust="spacingAndGlyphs">a</tspan><tspan x="124.64" textLength="12.49" lengthAdjust="spacingAndGlyphs">n</tspan></text>
</svg></body></html>
